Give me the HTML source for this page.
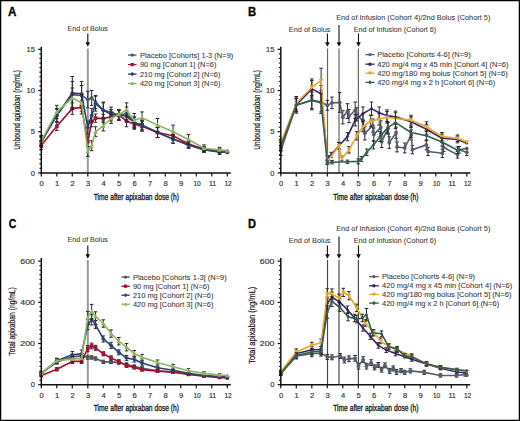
<!DOCTYPE html><html><head><meta charset="utf-8"><style>html,body{margin:0;padding:0;background:#fff;}svg{display:block;}text{font-family:"Liberation Sans",sans-serif;}</style></head><body>
<svg width="520" height="421" viewBox="0 0 520 421" font-family='"Liberation Sans", sans-serif'>
<rect x="0" y="0" width="520" height="421" fill="#fff"/>
<text x="8" y="15.7" font-size="12" font-weight="bold" fill="#000" stroke="#000" stroke-width="0.3" textLength="8.4" lengthAdjust="spacingAndGlyphs">A</text>
<text x="248.0" y="15.8" font-size="12" font-weight="bold" fill="#000" stroke="#000" stroke-width="0.3" textLength="8.2" lengthAdjust="spacingAndGlyphs">B</text>
<text x="8.7" y="227.7" font-size="12" font-weight="bold" fill="#000" stroke="#000" stroke-width="0.3" textLength="7.6" lengthAdjust="spacingAndGlyphs">C</text>
<text x="248.1" y="227.6" font-size="12" font-weight="bold" fill="#000" stroke="#000" stroke-width="0.3" textLength="8.0" lengthAdjust="spacingAndGlyphs">D</text>
<line x1="87.8" y1="48.6" x2="87.8" y2="172.9" stroke="#9a9a9a" stroke-width="2"/>
<path d="M41.3,137.47V147.36M39.5,137.47H43.1M39.5,147.36H43.1" stroke="#2a2a2a" stroke-width="1" fill="none"/>
<path d="M56.8,108.63V121.81M55,108.63H58.6M55,121.81H58.6" stroke="#2a2a2a" stroke-width="1" fill="none"/>
<path d="M72.3,81.44V107.8M70.5,81.44H74.1M70.5,107.8H74.1" stroke="#2a2a2a" stroke-width="1" fill="none"/>
<path d="M81.6,85.56V105.33M79.8,85.56H83.4M79.8,105.33H83.4" stroke="#2a2a2a" stroke-width="1" fill="none"/>
<path d="M87.8,91.32V107.8M86,91.32H89.6M86,107.8H89.6" stroke="#2a2a2a" stroke-width="1" fill="none"/>
<path d="M91.67,90.5V105.33M89.88,90.5H93.47M89.88,105.33H93.47" stroke="#2a2a2a" stroke-width="1" fill="none"/>
<path d="M95.55,95.44V108.63M93.75,95.44H97.35M93.75,108.63H97.35" stroke="#2a2a2a" stroke-width="1" fill="none"/>
<path d="M103.3,102.86V117.69M101.5,102.86H105.1M101.5,117.69H105.1" stroke="#2a2a2a" stroke-width="1" fill="none"/>
<path d="M111.05,106.98V116.87M109.25,106.98H112.85M109.25,116.87H112.85" stroke="#2a2a2a" stroke-width="1" fill="none"/>
<path d="M118.8,110.28V120.16M117,110.28H120.6M117,120.16H120.6" stroke="#2a2a2a" stroke-width="1" fill="none"/>
<path d="M126.55,106.98V120.16M124.75,106.98H128.35M124.75,120.16H128.35" stroke="#2a2a2a" stroke-width="1" fill="none"/>
<path d="M134.3,116.87V128.4M132.5,116.87H136.1M132.5,128.4H136.1" stroke="#2a2a2a" stroke-width="1" fill="none"/>
<path d="M142.05,120.16V130.05M140.25,120.16H143.85M140.25,130.05H143.85" stroke="#2a2a2a" stroke-width="1" fill="none"/>
<path d="M157.55,127.58V137.47M155.75,127.58H159.35M155.75,137.47H159.35" stroke="#2a2a2a" stroke-width="1" fill="none"/>
<path d="M173.05,135V143.24M171.25,135H174.85M171.25,143.24H174.85" stroke="#2a2a2a" stroke-width="1" fill="none"/>
<path d="M188.55,141.59V148.18M186.75,141.59H190.35M186.75,148.18H190.35" stroke="#2a2a2a" stroke-width="1" fill="none"/>
<path d="M204.05,147.36V152.3M202.25,147.36H205.85M202.25,152.3H205.85" stroke="#2a2a2a" stroke-width="1" fill="none"/>
<path d="M219.55,149.42V154.36M217.75,149.42H221.35M217.75,154.36H221.35" stroke="#2a2a2a" stroke-width="1" fill="none"/>
<path d="M41.3,142.41 L56.8,115.22 L72.3,94.62 L81.6,95.44 L87.8,99.56 L91.67,97.92 L95.55,102.04 L103.3,110.28 L111.05,111.92 L118.8,115.22 L126.55,113.57 L134.3,122.64 L142.05,125.11 L157.55,132.52 L173.05,139.12 L188.55,144.88 L204.05,149.83 L219.55,151.89 L227.3,152.3" stroke="#4e5661" stroke-width="1.6" fill="none" stroke-linejoin="round"/>
<circle cx="41.3" cy="142.41" r="1.9" fill="#4e5661"/>
<circle cx="56.8" cy="115.22" r="1.9" fill="#4e5661"/>
<circle cx="72.3" cy="94.62" r="1.9" fill="#4e5661"/>
<circle cx="81.6" cy="95.44" r="1.9" fill="#4e5661"/>
<circle cx="87.8" cy="99.56" r="1.9" fill="#4e5661"/>
<circle cx="91.67" cy="97.92" r="1.9" fill="#4e5661"/>
<circle cx="95.55" cy="102.04" r="1.9" fill="#4e5661"/>
<circle cx="103.3" cy="110.28" r="1.9" fill="#4e5661"/>
<circle cx="111.05" cy="111.92" r="1.9" fill="#4e5661"/>
<circle cx="118.8" cy="115.22" r="1.9" fill="#4e5661"/>
<circle cx="126.55" cy="113.57" r="1.9" fill="#4e5661"/>
<circle cx="134.3" cy="122.64" r="1.9" fill="#4e5661"/>
<circle cx="142.05" cy="125.11" r="1.9" fill="#4e5661"/>
<circle cx="157.55" cy="132.52" r="1.9" fill="#4e5661"/>
<circle cx="173.05" cy="139.12" r="1.9" fill="#4e5661"/>
<circle cx="188.55" cy="144.88" r="1.9" fill="#4e5661"/>
<circle cx="204.05" cy="149.83" r="1.9" fill="#4e5661"/>
<circle cx="219.55" cy="151.89" r="1.9" fill="#4e5661"/>
<circle cx="227.3" cy="152.3" r="1.9" fill="#4e5661"/>
<path d="M41.3,141.18V149.42M39.5,141.18H43.1M39.5,149.42H43.1" stroke="#2a2a2a" stroke-width="1" fill="none"/>
<path d="M56.8,122.22V130.46M55,122.22H58.6M55,130.46H58.6" stroke="#2a2a2a" stroke-width="1" fill="none"/>
<path d="M72.3,102.86V114.4M70.5,102.86H74.1M70.5,114.4H74.1" stroke="#2a2a2a" stroke-width="1" fill="none"/>
<path d="M81.6,100.8V113.98M79.8,100.8H83.4M79.8,113.98H83.4" stroke="#2a2a2a" stroke-width="1" fill="none"/>
<path d="M87.8,136.64V146.53M86,136.64H89.6M86,146.53H89.6" stroke="#2a2a2a" stroke-width="1" fill="none"/>
<path d="M91.67,116.87V126.76M89.88,116.87H93.47M89.88,126.76H93.47" stroke="#2a2a2a" stroke-width="1" fill="none"/>
<path d="M95.55,113.98V122.22M93.75,113.98H97.35M93.75,122.22H97.35" stroke="#2a2a2a" stroke-width="1" fill="none"/>
<path d="M103.3,114.4V122.64M101.5,114.4H105.1M101.5,122.64H105.1" stroke="#2a2a2a" stroke-width="1" fill="none"/>
<path d="M111.05,112.75V120.99M109.25,112.75H112.85M109.25,120.99H112.85" stroke="#2a2a2a" stroke-width="1" fill="none"/>
<path d="M118.8,110.28V120.16M117,110.28H120.6M117,120.16H120.6" stroke="#2a2a2a" stroke-width="1" fill="none"/>
<path d="M126.55,115.22V126.76M124.75,115.22H128.35M124.75,126.76H128.35" stroke="#2a2a2a" stroke-width="1" fill="none"/>
<path d="M134.3,119.34V129.23M132.5,119.34H136.1M132.5,129.23H136.1" stroke="#2a2a2a" stroke-width="1" fill="none"/>
<path d="M142.05,121.4V131.29M140.25,121.4H143.85M140.25,131.29H143.85" stroke="#2a2a2a" stroke-width="1" fill="none"/>
<path d="M157.55,127.58V137.47M155.75,127.58H159.35M155.75,137.47H159.35" stroke="#2a2a2a" stroke-width="1" fill="none"/>
<path d="M173.05,131.7V139.94M171.25,131.7H174.85M171.25,139.94H174.85" stroke="#2a2a2a" stroke-width="1" fill="none"/>
<path d="M188.55,140.76V147.36M186.75,140.76H190.35M186.75,147.36H190.35" stroke="#2a2a2a" stroke-width="1" fill="none"/>
<path d="M204.05,146.53V151.48M202.25,146.53H205.85M202.25,151.48H205.85" stroke="#2a2a2a" stroke-width="1" fill="none"/>
<path d="M219.55,148.18V153.12M217.75,148.18H221.35M217.75,153.12H221.35" stroke="#2a2a2a" stroke-width="1" fill="none"/>
<path d="M41.3,145.3 L56.8,126.34 L72.3,108.63 L81.6,107.39 L87.8,141.59 L91.67,121.81 L95.55,118.1 L103.3,118.52 L111.05,116.87 L118.8,115.22 L126.55,120.99 L134.3,124.28 L142.05,126.34 L157.55,132.52 L173.05,135.82 L188.55,144.06 L204.05,149 L219.55,150.65 L227.3,151.89" stroke="#a8102e" stroke-width="1.6" fill="none" stroke-linejoin="round"/>
<rect x="39.5" y="143.5" width="3.6" height="3.6" fill="#a8102e"/>
<rect x="55" y="124.54" width="3.6" height="3.6" fill="#a8102e"/>
<rect x="70.5" y="106.83" width="3.6" height="3.6" fill="#a8102e"/>
<rect x="79.8" y="105.59" width="3.6" height="3.6" fill="#a8102e"/>
<rect x="86" y="139.79" width="3.6" height="3.6" fill="#a8102e"/>
<rect x="89.88" y="120.01" width="3.6" height="3.6" fill="#a8102e"/>
<rect x="93.75" y="116.3" width="3.6" height="3.6" fill="#a8102e"/>
<rect x="101.5" y="116.72" width="3.6" height="3.6" fill="#a8102e"/>
<rect x="109.25" y="115.07" width="3.6" height="3.6" fill="#a8102e"/>
<rect x="117" y="113.42" width="3.6" height="3.6" fill="#a8102e"/>
<rect x="124.75" y="119.19" width="3.6" height="3.6" fill="#a8102e"/>
<rect x="132.5" y="122.48" width="3.6" height="3.6" fill="#a8102e"/>
<rect x="140.25" y="124.54" width="3.6" height="3.6" fill="#a8102e"/>
<rect x="155.75" y="130.72" width="3.6" height="3.6" fill="#a8102e"/>
<rect x="171.25" y="134.02" width="3.6" height="3.6" fill="#a8102e"/>
<rect x="186.75" y="142.26" width="3.6" height="3.6" fill="#a8102e"/>
<rect x="202.25" y="147.2" width="3.6" height="3.6" fill="#a8102e"/>
<rect x="217.75" y="148.85" width="3.6" height="3.6" fill="#a8102e"/>
<rect x="225.5" y="150.09" width="3.6" height="3.6" fill="#a8102e"/>
<path d="M41.3,135.82V145.71M39.5,135.82H43.1M39.5,145.71H43.1" stroke="#2a2a2a" stroke-width="1" fill="none"/>
<path d="M56.8,109.04V122.22M55,109.04H58.6M55,122.22H58.6" stroke="#2a2a2a" stroke-width="1" fill="none"/>
<path d="M72.3,76.49V109.45M70.5,76.49H74.1M70.5,109.45H74.1" stroke="#2a2a2a" stroke-width="1" fill="none"/>
<path d="M81.6,81.44V106.16M79.8,81.44H83.4M79.8,106.16H83.4" stroke="#2a2a2a" stroke-width="1" fill="none"/>
<path d="M87.8,120.99V134.17M86,120.99H89.6M86,134.17H89.6" stroke="#2a2a2a" stroke-width="1" fill="none"/>
<path d="M91.67,108.63V121.81M89.88,108.63H93.47M89.88,121.81H93.47" stroke="#2a2a2a" stroke-width="1" fill="none"/>
<path d="M95.55,96.27V111.1M93.75,96.27H97.35M93.75,111.1H97.35" stroke="#2a2a2a" stroke-width="1" fill="none"/>
<path d="M103.3,102.04V118.52M101.5,102.04H105.1M101.5,118.52H105.1" stroke="#2a2a2a" stroke-width="1" fill="none"/>
<path d="M111.05,109.45V119.34M109.25,109.45H112.85M109.25,119.34H112.85" stroke="#2a2a2a" stroke-width="1" fill="none"/>
<path d="M118.8,110.28V120.16M117,110.28H120.6M117,120.16H120.6" stroke="#2a2a2a" stroke-width="1" fill="none"/>
<path d="M126.55,110.28V121.81M124.75,110.28H128.35M124.75,121.81H128.35" stroke="#2a2a2a" stroke-width="1" fill="none"/>
<path d="M134.3,117.69V127.58M132.5,117.69H136.1M132.5,127.58H136.1" stroke="#2a2a2a" stroke-width="1" fill="none"/>
<path d="M142.05,120.16V130.05M140.25,120.16H143.85M140.25,130.05H143.85" stroke="#2a2a2a" stroke-width="1" fill="none"/>
<path d="M157.55,127.58V137.47M155.75,127.58H159.35M155.75,137.47H159.35" stroke="#2a2a2a" stroke-width="1" fill="none"/>
<path d="M173.05,135V143.24M171.25,135H174.85M171.25,143.24H174.85" stroke="#2a2a2a" stroke-width="1" fill="none"/>
<path d="M188.55,141.59V148.18M186.75,141.59H190.35M186.75,148.18H190.35" stroke="#2a2a2a" stroke-width="1" fill="none"/>
<path d="M204.05,147.36V152.3M202.25,147.36H205.85M202.25,152.3H205.85" stroke="#2a2a2a" stroke-width="1" fill="none"/>
<path d="M219.55,149.42V154.36M217.75,149.42H221.35M217.75,154.36H221.35" stroke="#2a2a2a" stroke-width="1" fill="none"/>
<path d="M41.3,140.76 L56.8,115.63 L72.3,92.97 L81.6,93.8 L87.8,127.58 L91.67,115.22 L95.55,103.68 L103.3,110.28 L111.05,114.4 L118.8,115.22 L126.55,116.04 L134.3,122.64 L142.05,125.11 L157.55,132.52 L173.05,139.12 L188.55,144.88 L204.05,149.83 L219.55,151.89 L227.3,152.3" stroke="#2a4272" stroke-width="1.6" fill="none" stroke-linejoin="round"/>
<path d="M41.3,138.46 L43.6,140.76 L41.3,143.06 L39,140.76 Z" fill="#2a4272"/>
<path d="M56.8,113.33 L59.1,115.63 L56.8,117.93 L54.5,115.63 Z" fill="#2a4272"/>
<path d="M72.3,90.67 L74.6,92.97 L72.3,95.27 L70,92.97 Z" fill="#2a4272"/>
<path d="M81.6,91.5 L83.9,93.8 L81.6,96.1 L79.3,93.8 Z" fill="#2a4272"/>
<path d="M87.8,125.28 L90.1,127.58 L87.8,129.88 L85.5,127.58 Z" fill="#2a4272"/>
<path d="M91.67,112.92 L93.97,115.22 L91.67,117.52 L89.38,115.22 Z" fill="#2a4272"/>
<path d="M95.55,101.38 L97.85,103.68 L95.55,105.98 L93.25,103.68 Z" fill="#2a4272"/>
<path d="M103.3,107.98 L105.6,110.28 L103.3,112.58 L101,110.28 Z" fill="#2a4272"/>
<path d="M111.05,112.1 L113.35,114.4 L111.05,116.7 L108.75,114.4 Z" fill="#2a4272"/>
<path d="M118.8,112.92 L121.1,115.22 L118.8,117.52 L116.5,115.22 Z" fill="#2a4272"/>
<path d="M126.55,113.74 L128.85,116.04 L126.55,118.34 L124.25,116.04 Z" fill="#2a4272"/>
<path d="M134.3,120.34 L136.6,122.64 L134.3,124.94 L132,122.64 Z" fill="#2a4272"/>
<path d="M142.05,122.81 L144.35,125.11 L142.05,127.41 L139.75,125.11 Z" fill="#2a4272"/>
<path d="M157.55,130.22 L159.85,132.52 L157.55,134.82 L155.25,132.52 Z" fill="#2a4272"/>
<path d="M173.05,136.82 L175.35,139.12 L173.05,141.42 L170.75,139.12 Z" fill="#2a4272"/>
<path d="M188.55,142.58 L190.85,144.88 L188.55,147.18 L186.25,144.88 Z" fill="#2a4272"/>
<path d="M204.05,147.53 L206.35,149.83 L204.05,152.13 L201.75,149.83 Z" fill="#2a4272"/>
<path d="M219.55,149.59 L221.85,151.89 L219.55,154.19 L217.25,151.89 Z" fill="#2a4272"/>
<path d="M227.3,150 L229.6,152.3 L227.3,154.6 L225,152.3 Z" fill="#2a4272"/>
<path d="M41.3,135.82V145.71M39.5,135.82H43.1M39.5,145.71H43.1" stroke="#2a2a2a" stroke-width="1" fill="none"/>
<path d="M56.8,105.33V118.52M55,105.33H58.6M55,118.52H58.6" stroke="#2a2a2a" stroke-width="1" fill="none"/>
<path d="M72.3,88.03V107.8M70.5,88.03H74.1M70.5,107.8H74.1" stroke="#2a2a2a" stroke-width="1" fill="none"/>
<path d="M81.6,94.62V111.1M79.8,94.62H83.4M79.8,111.1H83.4" stroke="#2a2a2a" stroke-width="1" fill="none"/>
<path d="M87.8,146.53V156.42M86,146.53H89.6M86,156.42H89.6" stroke="#2a2a2a" stroke-width="1" fill="none"/>
<path d="M91.67,140.76V150.65M89.88,140.76H93.47M89.88,150.65H93.47" stroke="#2a2a2a" stroke-width="1" fill="none"/>
<path d="M95.55,126.76V136.64M93.75,126.76H97.35M93.75,136.64H97.35" stroke="#2a2a2a" stroke-width="1" fill="none"/>
<path d="M103.3,120.99V130.88M101.5,120.99H105.1M101.5,130.88H105.1" stroke="#2a2a2a" stroke-width="1" fill="none"/>
<path d="M111.05,113.57V123.46M109.25,113.57H112.85M109.25,123.46H112.85" stroke="#2a2a2a" stroke-width="1" fill="none"/>
<path d="M118.8,109.45V119.34M117,109.45H120.6M117,119.34H120.6" stroke="#2a2a2a" stroke-width="1" fill="none"/>
<path d="M126.55,102.86V117.69M124.75,102.86H128.35M124.75,117.69H128.35" stroke="#2a2a2a" stroke-width="1" fill="none"/>
<path d="M134.3,113.57V126.76M132.5,113.57H136.1M132.5,126.76H136.1" stroke="#2a2a2a" stroke-width="1" fill="none"/>
<path d="M142.05,111.92V123.46M140.25,111.92H143.85M140.25,123.46H143.85" stroke="#2a2a2a" stroke-width="1" fill="none"/>
<path d="M157.55,118.52V131.7M155.75,118.52H159.35M155.75,131.7H159.35" stroke="#2a2a2a" stroke-width="1" fill="none"/>
<path d="M173.05,125.11V138.29M171.25,125.11H174.85M171.25,138.29H174.85" stroke="#2a2a2a" stroke-width="1" fill="none"/>
<path d="M188.55,134.58V144.47M186.75,134.58H190.35M186.75,144.47H190.35" stroke="#2a2a2a" stroke-width="1" fill="none"/>
<path d="M204.05,144.88V151.48M202.25,144.88H205.85M202.25,151.48H205.85" stroke="#2a2a2a" stroke-width="1" fill="none"/>
<path d="M219.55,147.36V152.3M217.75,147.36H221.35M217.75,152.3H221.35" stroke="#2a2a2a" stroke-width="1" fill="none"/>
<path d="M41.3,140.76 L56.8,111.92 L72.3,97.92 L81.6,102.86 L87.8,151.48 L91.67,145.71 L95.55,131.7 L103.3,125.93 L111.05,118.52 L118.8,114.4 L126.55,110.28 L134.3,120.16 L142.05,117.69 L157.55,125.11 L173.05,131.7 L188.55,139.53 L204.05,148.18 L219.55,149.83 L227.3,150.65" stroke="#8db563" stroke-width="1.6" fill="none" stroke-linejoin="round"/>
<path d="M41.3,138.46 L43.6,142.6 L39,142.6 Z" fill="#8db563"/>
<path d="M56.8,109.62 L59.1,113.76 L54.5,113.76 Z" fill="#8db563"/>
<path d="M72.3,95.62 L74.6,99.76 L70,99.76 Z" fill="#8db563"/>
<path d="M81.6,100.56 L83.9,104.7 L79.3,104.7 Z" fill="#8db563"/>
<path d="M87.8,149.18 L90.1,153.32 L85.5,153.32 Z" fill="#8db563"/>
<path d="M91.67,143.41 L93.97,147.55 L89.38,147.55 Z" fill="#8db563"/>
<path d="M95.55,129.4 L97.85,133.54 L93.25,133.54 Z" fill="#8db563"/>
<path d="M103.3,123.63 L105.6,127.77 L101,127.77 Z" fill="#8db563"/>
<path d="M111.05,116.22 L113.35,120.36 L108.75,120.36 Z" fill="#8db563"/>
<path d="M118.8,112.1 L121.1,116.24 L116.5,116.24 Z" fill="#8db563"/>
<path d="M126.55,107.98 L128.85,112.12 L124.25,112.12 Z" fill="#8db563"/>
<path d="M134.3,117.86 L136.6,122 L132,122 Z" fill="#8db563"/>
<path d="M142.05,115.39 L144.35,119.53 L139.75,119.53 Z" fill="#8db563"/>
<path d="M157.55,122.81 L159.85,126.95 L155.25,126.95 Z" fill="#8db563"/>
<path d="M173.05,129.4 L175.35,133.54 L170.75,133.54 Z" fill="#8db563"/>
<path d="M188.55,137.23 L190.85,141.37 L186.25,141.37 Z" fill="#8db563"/>
<path d="M204.05,145.88 L206.35,150.02 L201.75,150.02 Z" fill="#8db563"/>
<path d="M219.55,147.53 L221.85,151.67 L217.25,151.67 Z" fill="#8db563"/>
<path d="M227.3,148.35 L229.6,152.49 L225,152.49 Z" fill="#8db563"/>
<line x1="41.3" y1="46.8" x2="41.3" y2="173.7" stroke="#111" stroke-width="1.5"/>
<line x1="40.55" y1="172.9" x2="230.8" y2="172.9" stroke="#111" stroke-width="1.5"/>
<line x1="41.3" y1="172.9" x2="41.3" y2="176.4" stroke="#111" stroke-width="1.2"/>
<text x="41.6" y="186.4" font-size="7.6" text-anchor="middle" fill="#3c3c3c" stroke="#3c3c3c" stroke-width="0.2">0</text>
<line x1="56.8" y1="172.9" x2="56.8" y2="176.4" stroke="#111" stroke-width="1.2"/>
<text x="57.1" y="186.4" font-size="7.6" text-anchor="middle" fill="#3c3c3c" stroke="#3c3c3c" stroke-width="0.2">1</text>
<line x1="72.3" y1="172.9" x2="72.3" y2="176.4" stroke="#111" stroke-width="1.2"/>
<text x="72.6" y="186.4" font-size="7.6" text-anchor="middle" fill="#3c3c3c" stroke="#3c3c3c" stroke-width="0.2">2</text>
<line x1="87.8" y1="172.9" x2="87.8" y2="176.4" stroke="#111" stroke-width="1.2"/>
<text x="88.1" y="186.4" font-size="7.6" text-anchor="middle" fill="#3c3c3c" stroke="#3c3c3c" stroke-width="0.2">3</text>
<line x1="103.3" y1="172.9" x2="103.3" y2="176.4" stroke="#111" stroke-width="1.2"/>
<text x="103.6" y="186.4" font-size="7.6" text-anchor="middle" fill="#3c3c3c" stroke="#3c3c3c" stroke-width="0.2">4</text>
<line x1="118.8" y1="172.9" x2="118.8" y2="176.4" stroke="#111" stroke-width="1.2"/>
<text x="119.1" y="186.4" font-size="7.6" text-anchor="middle" fill="#3c3c3c" stroke="#3c3c3c" stroke-width="0.2">5</text>
<line x1="134.3" y1="172.9" x2="134.3" y2="176.4" stroke="#111" stroke-width="1.2"/>
<text x="134.6" y="186.4" font-size="7.6" text-anchor="middle" fill="#3c3c3c" stroke="#3c3c3c" stroke-width="0.2">6</text>
<line x1="149.8" y1="172.9" x2="149.8" y2="176.4" stroke="#111" stroke-width="1.2"/>
<text x="150.1" y="186.4" font-size="7.6" text-anchor="middle" fill="#3c3c3c" stroke="#3c3c3c" stroke-width="0.2">7</text>
<line x1="165.3" y1="172.9" x2="165.3" y2="176.4" stroke="#111" stroke-width="1.2"/>
<text x="165.6" y="186.4" font-size="7.6" text-anchor="middle" fill="#3c3c3c" stroke="#3c3c3c" stroke-width="0.2">8</text>
<line x1="180.8" y1="172.9" x2="180.8" y2="176.4" stroke="#111" stroke-width="1.2"/>
<text x="181.1" y="186.4" font-size="7.6" text-anchor="middle" fill="#3c3c3c" stroke="#3c3c3c" stroke-width="0.2">9</text>
<line x1="196.3" y1="172.9" x2="196.3" y2="176.4" stroke="#111" stroke-width="1.2"/>
<text x="197.1" y="186.4" font-size="7.6" text-anchor="middle" fill="#3c3c3c" stroke="#3c3c3c" stroke-width="0.2" textLength="7.4" lengthAdjust="spacingAndGlyphs">10</text>
<line x1="211.8" y1="172.9" x2="211.8" y2="176.4" stroke="#111" stroke-width="1.2"/>
<text x="212.6" y="186.4" font-size="7.6" text-anchor="middle" fill="#3c3c3c" stroke="#3c3c3c" stroke-width="0.2" textLength="7.4" lengthAdjust="spacingAndGlyphs">11</text>
<line x1="227.3" y1="172.9" x2="227.3" y2="176.4" stroke="#111" stroke-width="1.2"/>
<text x="228.1" y="186.4" font-size="7.6" text-anchor="middle" fill="#3c3c3c" stroke="#3c3c3c" stroke-width="0.2" textLength="7.4" lengthAdjust="spacingAndGlyphs">12</text>
<line x1="38.1" y1="172.9" x2="41.3" y2="172.9" stroke="#111" stroke-width="1.2"/>
<line x1="39.4" y1="168.32" x2="41.3" y2="168.32" stroke="#111" stroke-width="1.1"/>
<line x1="39.4" y1="163.74" x2="41.3" y2="163.74" stroke="#111" stroke-width="1.1"/>
<line x1="39.4" y1="159.17" x2="41.3" y2="159.17" stroke="#111" stroke-width="1.1"/>
<line x1="39.4" y1="154.59" x2="41.3" y2="154.59" stroke="#111" stroke-width="1.1"/>
<line x1="39.4" y1="150.01" x2="41.3" y2="150.01" stroke="#111" stroke-width="1.1"/>
<line x1="39.4" y1="145.43" x2="41.3" y2="145.43" stroke="#111" stroke-width="1.1"/>
<line x1="39.4" y1="140.86" x2="41.3" y2="140.86" stroke="#111" stroke-width="1.1"/>
<line x1="39.4" y1="136.28" x2="41.3" y2="136.28" stroke="#111" stroke-width="1.1"/>
<line x1="38.1" y1="131.7" x2="41.3" y2="131.7" stroke="#111" stroke-width="1.2"/>
<line x1="39.4" y1="127.12" x2="41.3" y2="127.12" stroke="#111" stroke-width="1.1"/>
<line x1="39.4" y1="122.54" x2="41.3" y2="122.54" stroke="#111" stroke-width="1.1"/>
<line x1="39.4" y1="117.97" x2="41.3" y2="117.97" stroke="#111" stroke-width="1.1"/>
<line x1="39.4" y1="113.39" x2="41.3" y2="113.39" stroke="#111" stroke-width="1.1"/>
<line x1="39.4" y1="108.81" x2="41.3" y2="108.81" stroke="#111" stroke-width="1.1"/>
<line x1="39.4" y1="104.23" x2="41.3" y2="104.23" stroke="#111" stroke-width="1.1"/>
<line x1="39.4" y1="99.66" x2="41.3" y2="99.66" stroke="#111" stroke-width="1.1"/>
<line x1="39.4" y1="95.08" x2="41.3" y2="95.08" stroke="#111" stroke-width="1.1"/>
<line x1="38.1" y1="90.5" x2="41.3" y2="90.5" stroke="#111" stroke-width="1.2"/>
<line x1="39.4" y1="85.92" x2="41.3" y2="85.92" stroke="#111" stroke-width="1.1"/>
<line x1="39.4" y1="81.34" x2="41.3" y2="81.34" stroke="#111" stroke-width="1.1"/>
<line x1="39.4" y1="76.77" x2="41.3" y2="76.77" stroke="#111" stroke-width="1.1"/>
<line x1="39.4" y1="72.19" x2="41.3" y2="72.19" stroke="#111" stroke-width="1.1"/>
<line x1="39.4" y1="67.61" x2="41.3" y2="67.61" stroke="#111" stroke-width="1.1"/>
<line x1="39.4" y1="63.03" x2="41.3" y2="63.03" stroke="#111" stroke-width="1.1"/>
<line x1="39.4" y1="58.46" x2="41.3" y2="58.46" stroke="#111" stroke-width="1.1"/>
<line x1="39.4" y1="53.88" x2="41.3" y2="53.88" stroke="#111" stroke-width="1.1"/>
<line x1="38.1" y1="49.3" x2="41.3" y2="49.3" stroke="#111" stroke-width="1.2"/>
<text x="34.9" y="175.5" font-size="7.6" text-anchor="end" fill="#3c3c3c" stroke="#3c3c3c" stroke-width="0.2">0</text>
<text x="34.9" y="134.3" font-size="7.6" text-anchor="end" fill="#3c3c3c" stroke="#3c3c3c" stroke-width="0.2">5</text>
<text x="34.9" y="93.1" font-size="7.6" text-anchor="end" fill="#3c3c3c" stroke="#3c3c3c" stroke-width="0.2" textLength="8.5" lengthAdjust="spacingAndGlyphs">10</text>
<text x="34.9" y="51.9" font-size="7.6" text-anchor="end" fill="#3c3c3c" stroke="#3c3c3c" stroke-width="0.2" textLength="8.3" lengthAdjust="spacingAndGlyphs">15</text>
<text x="67.6" y="31.4" font-size="7.2" fill="#3c3c3c" stroke="#3c3c3c" stroke-width="0.08" textLength="40.3" lengthAdjust="spacingAndGlyphs">End of Bolus</text>
<line x1="87.8" y1="33.4" x2="87.8" y2="43.8" stroke="#111" stroke-width="1.1"/>
<path d="M85.5,42.2 L90.1,42.2 L87.8,46.8 Z" fill="#111"/>
<line x1="128" y1="55.1" x2="136.5" y2="55.1" stroke="#4e5661" stroke-width="1.3"/>
<circle cx="132.25" cy="55.1" r="1.71" fill="#4e5661"/>
<text x="139.9" y="57.5" font-size="7.2" fill="#3c3c3c" stroke="#3c3c3c" stroke-width="0.08" textLength="93.4" lengthAdjust="spacingAndGlyphs">Placebo [Cohorts] 1-3 (N=9)</text>
<line x1="128" y1="64.6" x2="136.5" y2="64.6" stroke="#a8102e" stroke-width="1.3"/>
<rect x="130.63" y="62.98" width="3.24" height="3.24" fill="#a8102e"/>
<text x="139.9" y="67" font-size="7.2" fill="#3c3c3c" stroke="#3c3c3c" stroke-width="0.08" textLength="76.5" lengthAdjust="spacingAndGlyphs">90 mg [Cohort 1] (N=6)</text>
<line x1="128" y1="74.1" x2="136.5" y2="74.1" stroke="#2a4272" stroke-width="1.3"/>
<path d="M132.25,72.03 L134.32,74.1 L132.25,76.17 L130.18,74.1 Z" fill="#2a4272"/>
<text x="139.9" y="76.5" font-size="7.2" fill="#3c3c3c" stroke="#3c3c3c" stroke-width="0.08" textLength="80.5" lengthAdjust="spacingAndGlyphs">210 mg [Cohort 2] (N=6)</text>
<line x1="128" y1="83.4" x2="136.5" y2="83.4" stroke="#8db563" stroke-width="1.3"/>
<path d="M132.25,81.33 L134.32,85.06 L130.18,85.06 Z" fill="#8db563"/>
<text x="139.9" y="85.8" font-size="7.2" fill="#3c3c3c" stroke="#3c3c3c" stroke-width="0.08" textLength="80.5" lengthAdjust="spacingAndGlyphs">420 mg [Cohort 3] (N=6)</text>
<text transform="translate(20,109.9) rotate(-90)" x="-39.85" y="0" font-size="8.6" fill="#222" textLength="79.7" lengthAdjust="spacingAndGlyphs" stroke="#222" stroke-width="0.22">Unbound apixaban (ng/mL)</text>
<text x="93.7" y="200" font-size="9" fill="#222" textLength="85.3" lengthAdjust="spacingAndGlyphs" stroke="#222" stroke-width="0.35">Time after apixaban dose (h)</text>
<line x1="327.5" y1="48.5" x2="327.5" y2="172.9" stroke="#666" stroke-width="1.2"/>
<line x1="339.0" y1="48.5" x2="339.0" y2="172.9" stroke="#666" stroke-width="1.2"/>
<line x1="358.4" y1="48.5" x2="358.4" y2="172.9" stroke="#666" stroke-width="1.2"/>
<path d="M280.8,145.71V155.6M279,145.71H282.6M279,155.6H282.6" stroke="#2a2a2a" stroke-width="1" fill="none"/>
<path d="M296.3,96.68V113.16M294.5,96.68H298.1M294.5,113.16H298.1" stroke="#2a2a2a" stroke-width="1" fill="none"/>
<path d="M311.8,90.09V109.86M310,90.09H313.6M310,109.86H313.6" stroke="#2a2a2a" stroke-width="1" fill="none"/>
<path d="M321.1,90.5V113.57M319.3,90.5H322.9M319.3,113.57H322.9" stroke="#2a2a2a" stroke-width="1" fill="none"/>
<path d="M327.3,100.39V110.28M325.5,100.39H329.1M325.5,110.28H329.1" stroke="#2a2a2a" stroke-width="1" fill="none"/>
<path d="M331.95,97.09V108.63M330.15,97.09H333.75M330.15,108.63H333.75" stroke="#2a2a2a" stroke-width="1" fill="none"/>
<path d="M339.7,92.56V112.34M337.9,92.56H341.5M337.9,112.34H341.5" stroke="#2a2a2a" stroke-width="1" fill="none"/>
<path d="M342.8,110.69V123.87M341,110.69H344.6M341,123.87H344.6" stroke="#2a2a2a" stroke-width="1" fill="none"/>
<path d="M347.45,103.68V118.52M345.65,103.68H349.25M345.65,118.52H349.25" stroke="#2a2a2a" stroke-width="1" fill="none"/>
<path d="M349,109.45V122.64M347.2,109.45H350.8M347.2,122.64H350.8" stroke="#2a2a2a" stroke-width="1" fill="none"/>
<path d="M355.2,102.04V118.52M353.4,102.04H357M353.4,118.52H357" stroke="#2a2a2a" stroke-width="1" fill="none"/>
<path d="M356.75,107.8V120.99M354.95,107.8H358.55M354.95,120.99H358.55" stroke="#2a2a2a" stroke-width="1" fill="none"/>
<path d="M362.95,113.57V128.4M361.15,113.57H364.75M361.15,128.4H364.75" stroke="#2a2a2a" stroke-width="1" fill="none"/>
<path d="M364.81,126.76V139.94M363.01,126.76H366.61M363.01,139.94H366.61" stroke="#2a2a2a" stroke-width="1" fill="none"/>
<path d="M372.87,119.01V132.19M371.07,119.01H374.67M371.07,132.19H374.67" stroke="#2a2a2a" stroke-width="1" fill="none"/>
<path d="M373.8,127.99V141.18M372,127.99H375.6M372,141.18H375.6" stroke="#2a2a2a" stroke-width="1" fill="none"/>
<path d="M380.78,120.82V134.01M378.98,120.82H382.58M378.98,134.01H382.58" stroke="#2a2a2a" stroke-width="1" fill="none"/>
<path d="M381.71,135.9V147.44M379.91,135.9H383.51M379.91,147.44H383.51" stroke="#2a2a2a" stroke-width="1" fill="none"/>
<path d="M388.06,122.55V134.09M386.26,122.55H389.86M386.26,134.09H389.86" stroke="#2a2a2a" stroke-width="1" fill="none"/>
<path d="M389.3,136.81V148.34M387.5,136.81H391.1M387.5,148.34H391.1" stroke="#2a2a2a" stroke-width="1" fill="none"/>
<path d="M396.12,127V138.54M394.32,127H397.92M394.32,138.54H397.92" stroke="#2a2a2a" stroke-width="1" fill="none"/>
<path d="M397.05,142V151.89M395.25,142H398.85M395.25,151.89H398.85" stroke="#2a2a2a" stroke-width="1" fill="none"/>
<path d="M404.8,142.99V152.88M403,142.99H406.6M403,152.88H406.6" stroke="#2a2a2a" stroke-width="1" fill="none"/>
<path d="M411.15,130.05V139.94M409.35,130.05H412.95M409.35,139.94H412.95" stroke="#2a2a2a" stroke-width="1" fill="none"/>
<path d="M412.39,145.54V153.78M410.59,145.54H414.19M410.59,153.78H414.19" stroke="#2a2a2a" stroke-width="1" fill="none"/>
<path d="M426.35,139.94V149.83M424.55,139.94H428.15M424.55,149.83H428.15" stroke="#2a2a2a" stroke-width="1" fill="none"/>
<path d="M428.05,147.36V155.6M426.25,147.36H429.85M426.25,155.6H429.85" stroke="#2a2a2a" stroke-width="1" fill="none"/>
<path d="M442.31,149.17V157.41M440.51,149.17H444.11M440.51,157.41H444.11" stroke="#2a2a2a" stroke-width="1" fill="none"/>
<path d="M443.55,143.24V151.48M441.75,143.24H445.35M441.75,151.48H445.35" stroke="#2a2a2a" stroke-width="1" fill="none"/>
<path d="M457.5,151.48V158.07M455.7,151.48H459.3M455.7,158.07H459.3" stroke="#2a2a2a" stroke-width="1" fill="none"/>
<path d="M459.05,146.53V153.12M457.25,146.53H460.85M457.25,153.12H460.85" stroke="#2a2a2a" stroke-width="1" fill="none"/>
<path d="M466.8,149V155.6M465,149H468.6M465,155.6H468.6" stroke="#2a2a2a" stroke-width="1" fill="none"/>
<path d="M280.8,150.65 L296.3,104.92 L311.8,99.98 L321.1,102.04 L327.3,105.33 L331.95,102.86 L339.7,102.45 L342.8,117.28 L347.45,111.1 L349,116.04 L355.2,110.28 L356.75,114.4 L362.95,120.99 L364.81,133.35 L372.87,125.6 L373.8,134.58 L380.78,127.42 L381.71,141.67 L388.06,128.32 L389.3,142.58 L396.12,132.77 L397.05,146.94 L404.8,147.93 L411.15,135 L412.39,149.66 L426.35,144.88 L428.05,151.48 L442.31,153.29 L443.55,147.36 L457.5,154.77 L459.05,149.83 L466.8,152.3" stroke="#565d6c" stroke-width="1.6" fill="none" stroke-linejoin="round"/>
<circle cx="280.8" cy="150.65" r="1.9" fill="#565d6c"/>
<circle cx="296.3" cy="104.92" r="1.9" fill="#565d6c"/>
<circle cx="311.8" cy="99.98" r="1.9" fill="#565d6c"/>
<circle cx="321.1" cy="102.04" r="1.9" fill="#565d6c"/>
<circle cx="327.3" cy="105.33" r="1.9" fill="#565d6c"/>
<circle cx="331.95" cy="102.86" r="1.9" fill="#565d6c"/>
<circle cx="339.7" cy="102.45" r="1.9" fill="#565d6c"/>
<circle cx="342.8" cy="117.28" r="1.9" fill="#565d6c"/>
<circle cx="347.45" cy="111.1" r="1.9" fill="#565d6c"/>
<circle cx="349" cy="116.04" r="1.9" fill="#565d6c"/>
<circle cx="355.2" cy="110.28" r="1.9" fill="#565d6c"/>
<circle cx="356.75" cy="114.4" r="1.9" fill="#565d6c"/>
<circle cx="362.95" cy="120.99" r="1.9" fill="#565d6c"/>
<circle cx="364.81" cy="133.35" r="1.9" fill="#565d6c"/>
<circle cx="372.87" cy="125.6" r="1.9" fill="#565d6c"/>
<circle cx="373.8" cy="134.58" r="1.9" fill="#565d6c"/>
<circle cx="380.78" cy="127.42" r="1.9" fill="#565d6c"/>
<circle cx="381.71" cy="141.67" r="1.9" fill="#565d6c"/>
<circle cx="388.06" cy="128.32" r="1.9" fill="#565d6c"/>
<circle cx="389.3" cy="142.58" r="1.9" fill="#565d6c"/>
<circle cx="396.12" cy="132.77" r="1.9" fill="#565d6c"/>
<circle cx="397.05" cy="146.94" r="1.9" fill="#565d6c"/>
<circle cx="404.8" cy="147.93" r="1.9" fill="#565d6c"/>
<circle cx="411.15" cy="135" r="1.9" fill="#565d6c"/>
<circle cx="412.39" cy="149.66" r="1.9" fill="#565d6c"/>
<circle cx="426.35" cy="144.88" r="1.9" fill="#565d6c"/>
<circle cx="428.05" cy="151.48" r="1.9" fill="#565d6c"/>
<circle cx="442.31" cy="153.29" r="1.9" fill="#565d6c"/>
<circle cx="443.55" cy="147.36" r="1.9" fill="#565d6c"/>
<circle cx="457.5" cy="154.77" r="1.9" fill="#565d6c"/>
<circle cx="459.05" cy="149.83" r="1.9" fill="#565d6c"/>
<circle cx="466.8" cy="152.3" r="1.9" fill="#565d6c"/>
<path d="M280.8,139.94V148.18M279,139.94H282.6M279,148.18H282.6" stroke="#2a2a2a" stroke-width="1" fill="none"/>
<path d="M296.3,98.33V111.51M294.5,98.33H298.1M294.5,111.51H298.1" stroke="#2a2a2a" stroke-width="1" fill="none"/>
<path d="M311.8,80.61V97.09M310,80.61H313.6M310,97.09H313.6" stroke="#2a2a2a" stroke-width="1" fill="none"/>
<path d="M321.1,85.56V102.04M319.3,85.56H322.9M319.3,102.04H322.9" stroke="#2a2a2a" stroke-width="1" fill="none"/>
<path d="M327.3,155.6V160.54M325.5,155.6H329.1M325.5,160.54H329.1" stroke="#2a2a2a" stroke-width="1" fill="none"/>
<path d="M331.18,152.3V157.24M329.38,152.3H332.98M329.38,157.24H332.98" stroke="#2a2a2a" stroke-width="1" fill="none"/>
<path d="M338.93,142.41V149M337.12,142.41H340.73M337.12,149H340.73" stroke="#2a2a2a" stroke-width="1" fill="none"/>
<path d="M347.45,132.52V140.76M345.65,132.52H349.25M345.65,140.76H349.25" stroke="#2a2a2a" stroke-width="1" fill="none"/>
<path d="M355.2,114.4V125.93M353.4,114.4H357M353.4,125.93H357" stroke="#2a2a2a" stroke-width="1" fill="none"/>
<path d="M362.95,106.98V120.16M361.15,106.98H364.75M361.15,120.16H364.75" stroke="#2a2a2a" stroke-width="1" fill="none"/>
<path d="M371.48,102.04V115.22M369.68,102.04H373.28M369.68,115.22H373.28" stroke="#2a2a2a" stroke-width="1" fill="none"/>
<path d="M379.23,106.98V118.52M377.43,106.98H381.03M377.43,118.52H381.03" stroke="#2a2a2a" stroke-width="1" fill="none"/>
<path d="M386.98,109.86V121.4M385.18,109.86H388.78M385.18,121.4H388.78" stroke="#2a2a2a" stroke-width="1" fill="none"/>
<path d="M395.5,111.1V122.64M393.7,111.1H397.3M393.7,122.64H397.3" stroke="#2a2a2a" stroke-width="1" fill="none"/>
<path d="M411,116.87V126.76M409.2,116.87H412.8M409.2,126.76H412.8" stroke="#2a2a2a" stroke-width="1" fill="none"/>
<path d="M426.5,124.28V134.17M424.7,124.28H428.3M424.7,134.17H428.3" stroke="#2a2a2a" stroke-width="1" fill="none"/>
<path d="M442,134.17V142.41M440.2,134.17H443.8M440.2,142.41H443.8" stroke="#2a2a2a" stroke-width="1" fill="none"/>
<path d="M457.5,136.23V142.82M455.7,136.23H459.3M455.7,142.82H459.3" stroke="#2a2a2a" stroke-width="1" fill="none"/>
<path d="M280.8,144.06 L296.3,104.92 L311.8,88.85 L321.1,93.8 L327.3,158.07 L331.18,154.77 L338.93,145.71 L347.45,136.64 L355.2,120.16 L362.95,113.57 L371.48,108.63 L379.23,112.75 L386.98,115.63 L395.5,116.87 L411,121.81 L426.5,129.23 L442,138.29 L457.5,139.53 L466.8,143.24" stroke="#3c2468" stroke-width="1.6" fill="none" stroke-linejoin="round"/>
<circle cx="280.8" cy="144.06" r="1.33" fill="#3c2468"/>
<circle cx="296.3" cy="104.92" r="1.33" fill="#3c2468"/>
<circle cx="311.8" cy="88.85" r="1.33" fill="#3c2468"/>
<circle cx="321.1" cy="93.8" r="1.33" fill="#3c2468"/>
<circle cx="327.3" cy="158.07" r="1.33" fill="#3c2468"/>
<circle cx="331.18" cy="154.77" r="1.33" fill="#3c2468"/>
<circle cx="338.93" cy="145.71" r="1.33" fill="#3c2468"/>
<circle cx="347.45" cy="136.64" r="1.33" fill="#3c2468"/>
<circle cx="355.2" cy="120.16" r="1.33" fill="#3c2468"/>
<circle cx="362.95" cy="113.57" r="1.33" fill="#3c2468"/>
<circle cx="371.48" cy="108.63" r="1.33" fill="#3c2468"/>
<circle cx="379.23" cy="112.75" r="1.33" fill="#3c2468"/>
<circle cx="386.98" cy="115.63" r="1.33" fill="#3c2468"/>
<circle cx="395.5" cy="116.87" r="1.33" fill="#3c2468"/>
<circle cx="411" cy="121.81" r="1.33" fill="#3c2468"/>
<circle cx="426.5" cy="129.23" r="1.33" fill="#3c2468"/>
<circle cx="442" cy="138.29" r="1.33" fill="#3c2468"/>
<circle cx="457.5" cy="139.53" r="1.33" fill="#3c2468"/>
<circle cx="466.8" cy="143.24" r="1.33" fill="#3c2468"/>
<path d="M280.8,139.12V147.36M279,139.12H282.6M279,147.36H282.6" stroke="#2a2a2a" stroke-width="1" fill="none"/>
<path d="M296.3,96.68V109.86M294.5,96.68H298.1M294.5,109.86H298.1" stroke="#2a2a2a" stroke-width="1" fill="none"/>
<path d="M311.8,78.96V95.44M310,78.96H313.6M310,95.44H313.6" stroke="#2a2a2a" stroke-width="1" fill="none"/>
<path d="M321.1,68.25V92.97M319.3,68.25H322.9M319.3,92.97H322.9" stroke="#2a2a2a" stroke-width="1" fill="none"/>
<path d="M327.3,159.3V164.25M325.5,159.3H329.1M325.5,164.25H329.1" stroke="#2a2a2a" stroke-width="1" fill="none"/>
<path d="M338.93,142.41V149M337.12,142.41H340.73M337.12,149H340.73" stroke="#2a2a2a" stroke-width="1" fill="none"/>
<path d="M341.87,156.01V160.95M340.07,156.01H343.67M340.07,160.95H343.67" stroke="#2a2a2a" stroke-width="1" fill="none"/>
<path d="M349,146.53V153.12M347.2,146.53H350.8M347.2,153.12H350.8" stroke="#2a2a2a" stroke-width="1" fill="none"/>
<path d="M356.75,131.7V139.94M354.95,131.7H358.55M354.95,139.94H358.55" stroke="#2a2a2a" stroke-width="1" fill="none"/>
<path d="M362.95,121.81V131.7M361.15,121.81H364.75M361.15,131.7H364.75" stroke="#2a2a2a" stroke-width="1" fill="none"/>
<path d="M370.7,115.22V126.76M368.9,115.22H372.5M368.9,126.76H372.5" stroke="#2a2a2a" stroke-width="1" fill="none"/>
<path d="M379.23,113.57V125.11M377.43,113.57H381.03M377.43,125.11H381.03" stroke="#2a2a2a" stroke-width="1" fill="none"/>
<path d="M386.98,111.51V123.05M385.18,111.51H388.78M385.18,123.05H388.78" stroke="#2a2a2a" stroke-width="1" fill="none"/>
<path d="M395.5,112.75V124.28M393.7,112.75H397.3M393.7,124.28H397.3" stroke="#2a2a2a" stroke-width="1" fill="none"/>
<path d="M411,115.22V125.11M409.2,115.22H412.8M409.2,125.11H412.8" stroke="#2a2a2a" stroke-width="1" fill="none"/>
<path d="M426.5,121.81V131.7M424.7,121.81H428.3M424.7,131.7H428.3" stroke="#2a2a2a" stroke-width="1" fill="none"/>
<path d="M442,132.52V140.76M440.2,132.52H443.8M440.2,140.76H443.8" stroke="#2a2a2a" stroke-width="1" fill="none"/>
<path d="M457.5,135V141.59M455.7,135H459.3M455.7,141.59H459.3" stroke="#2a2a2a" stroke-width="1" fill="none"/>
<path d="M280.8,143.24 L296.3,103.27 L311.8,87.2 L321.1,80.61 L327.3,161.78 L338.93,145.71 L341.87,158.48 L349,149.83 L356.75,135.82 L362.95,126.76 L370.7,120.99 L379.23,119.34 L386.98,117.28 L395.5,118.52 L411,120.16 L426.5,126.76 L442,136.64 L457.5,138.29 L466.8,142" stroke="#eba630" stroke-width="1.6" fill="none" stroke-linejoin="round"/>
<path d="M280.8,145.54 L283.1,141.4 L278.5,141.4 Z" fill="#eba630"/>
<path d="M296.3,105.57 L298.6,101.43 L294,101.43 Z" fill="#eba630"/>
<path d="M311.8,89.5 L314.1,85.36 L309.5,85.36 Z" fill="#eba630"/>
<path d="M321.1,82.91 L323.4,78.77 L318.8,78.77 Z" fill="#eba630"/>
<path d="M327.3,164.08 L329.6,159.94 L325,159.94 Z" fill="#eba630"/>
<path d="M338.93,148.01 L341.23,143.87 L336.62,143.87 Z" fill="#eba630"/>
<path d="M341.87,160.78 L344.17,156.64 L339.57,156.64 Z" fill="#eba630"/>
<path d="M349,152.13 L351.3,147.99 L346.7,147.99 Z" fill="#eba630"/>
<path d="M356.75,138.12 L359.05,133.98 L354.45,133.98 Z" fill="#eba630"/>
<path d="M362.95,129.06 L365.25,124.92 L360.65,124.92 Z" fill="#eba630"/>
<path d="M370.7,123.29 L373,119.15 L368.4,119.15 Z" fill="#eba630"/>
<path d="M379.23,121.64 L381.53,117.5 L376.93,117.5 Z" fill="#eba630"/>
<path d="M386.98,119.58 L389.28,115.44 L384.68,115.44 Z" fill="#eba630"/>
<path d="M395.5,120.82 L397.8,116.68 L393.2,116.68 Z" fill="#eba630"/>
<path d="M411,122.46 L413.3,118.32 L408.7,118.32 Z" fill="#eba630"/>
<path d="M426.5,129.06 L428.8,124.92 L424.2,124.92 Z" fill="#eba630"/>
<path d="M442,138.94 L444.3,134.8 L439.7,134.8 Z" fill="#eba630"/>
<path d="M457.5,140.59 L459.8,136.45 L455.2,136.45 Z" fill="#eba630"/>
<path d="M466.8,144.3 L469.1,140.16 L464.5,140.16 Z" fill="#eba630"/>
<path d="M280.8,142.41V150.65M279,142.41H282.6M279,150.65H282.6" stroke="#2a2a2a" stroke-width="1" fill="none"/>
<path d="M296.3,98.74V111.92M294.5,98.74H298.1M294.5,111.92H298.1" stroke="#2a2a2a" stroke-width="1" fill="none"/>
<path d="M311.8,92.15V108.63M310,92.15H313.6M310,108.63H313.6" stroke="#2a2a2a" stroke-width="1" fill="none"/>
<path d="M321.1,93.8V111.92M319.3,93.8H322.9M319.3,111.92H322.9" stroke="#2a2a2a" stroke-width="1" fill="none"/>
<path d="M327.3,160.95V164.25M325.5,160.95H329.1M325.5,164.25H329.1" stroke="#2a2a2a" stroke-width="1" fill="none"/>
<path d="M331.95,160.54V163.84M330.15,160.54H333.75M330.15,163.84H333.75" stroke="#2a2a2a" stroke-width="1" fill="none"/>
<path d="M347.45,160.13V163.42M345.65,160.13H349.25M345.65,163.42H349.25" stroke="#2a2a2a" stroke-width="1" fill="none"/>
<path d="M358.3,158.89V163.84M356.5,158.89H360.1M356.5,163.84H360.1" stroke="#2a2a2a" stroke-width="1" fill="none"/>
<path d="M361.4,156.42V161.36M359.6,156.42H363.2M359.6,161.36H363.2" stroke="#2a2a2a" stroke-width="1" fill="none"/>
<path d="M366.82,149V155.6M365.02,149H368.62M365.02,155.6H368.62" stroke="#2a2a2a" stroke-width="1" fill="none"/>
<path d="M373.49,140.76V149M371.69,140.76H375.29M371.69,149H375.29" stroke="#2a2a2a" stroke-width="1" fill="none"/>
<path d="M380,131.7V141.59M378.2,131.7H381.8M378.2,141.59H381.8" stroke="#2a2a2a" stroke-width="1" fill="none"/>
<path d="M387.75,121.81V133.35M385.95,121.81H389.55M385.95,133.35H389.55" stroke="#2a2a2a" stroke-width="1" fill="none"/>
<path d="M395.5,116.87V128.4M393.7,116.87H397.3M393.7,128.4H397.3" stroke="#2a2a2a" stroke-width="1" fill="none"/>
<path d="M411,127.58V137.47M409.2,127.58H412.8M409.2,137.47H412.8" stroke="#2a2a2a" stroke-width="1" fill="none"/>
<path d="M426.5,130.88V140.76M424.7,130.88H428.3M424.7,140.76H428.3" stroke="#2a2a2a" stroke-width="1" fill="none"/>
<path d="M442,137.88V146.12M440.2,137.88H443.8M440.2,146.12H443.8" stroke="#2a2a2a" stroke-width="1" fill="none"/>
<path d="M457.5,146.94V153.54M455.7,146.94H459.3M455.7,153.54H459.3" stroke="#2a2a2a" stroke-width="1" fill="none"/>
<path d="M280.8,146.53 L296.3,105.33 L311.8,100.39 L321.1,102.86 L327.3,162.6 L331.95,162.19 L347.45,161.78 L358.3,161.36 L361.4,158.89 L366.82,152.3 L373.49,144.88 L380,136.64 L387.75,127.58 L395.5,122.64 L411,132.52 L426.5,135.82 L442,142 L457.5,150.24 L466.8,148.18" stroke="#33604f" stroke-width="1.6" fill="none" stroke-linejoin="round"/>
<path d="M280.8,144.69 L282.64,146.53 L280.8,148.37 L278.96,146.53 Z" fill="#33604f"/>
<path d="M296.3,103.49 L298.14,105.33 L296.3,107.17 L294.46,105.33 Z" fill="#33604f"/>
<path d="M311.8,98.55 L313.64,100.39 L311.8,102.23 L309.96,100.39 Z" fill="#33604f"/>
<path d="M321.1,101.02 L322.94,102.86 L321.1,104.7 L319.26,102.86 Z" fill="#33604f"/>
<path d="M327.3,160.76 L329.14,162.6 L327.3,164.44 L325.46,162.6 Z" fill="#33604f"/>
<path d="M331.95,160.35 L333.79,162.19 L331.95,164.03 L330.11,162.19 Z" fill="#33604f"/>
<path d="M347.45,159.94 L349.29,161.78 L347.45,163.62 L345.61,161.78 Z" fill="#33604f"/>
<path d="M358.3,159.52 L360.14,161.36 L358.3,163.2 L356.46,161.36 Z" fill="#33604f"/>
<path d="M361.4,157.05 L363.24,158.89 L361.4,160.73 L359.56,158.89 Z" fill="#33604f"/>
<path d="M366.82,150.46 L368.66,152.3 L366.82,154.14 L364.99,152.3 Z" fill="#33604f"/>
<path d="M373.49,143.04 L375.33,144.88 L373.49,146.72 L371.65,144.88 Z" fill="#33604f"/>
<path d="M380,134.8 L381.84,136.64 L380,138.48 L378.16,136.64 Z" fill="#33604f"/>
<path d="M387.75,125.74 L389.59,127.58 L387.75,129.42 L385.91,127.58 Z" fill="#33604f"/>
<path d="M395.5,120.8 L397.34,122.64 L395.5,124.48 L393.66,122.64 Z" fill="#33604f"/>
<path d="M411,130.68 L412.84,132.52 L411,134.36 L409.16,132.52 Z" fill="#33604f"/>
<path d="M426.5,133.98 L428.34,135.82 L426.5,137.66 L424.66,135.82 Z" fill="#33604f"/>
<path d="M442,140.16 L443.84,142 L442,143.84 L440.16,142 Z" fill="#33604f"/>
<path d="M457.5,148.4 L459.34,150.24 L457.5,152.08 L455.66,150.24 Z" fill="#33604f"/>
<path d="M466.8,146.34 L468.64,148.18 L466.8,150.02 L464.96,148.18 Z" fill="#33604f"/>
<line x1="280.8" y1="46.8" x2="280.8" y2="173.7" stroke="#111" stroke-width="1.5"/>
<line x1="280.05" y1="172.9" x2="470.3" y2="172.9" stroke="#111" stroke-width="1.5"/>
<line x1="280.8" y1="172.9" x2="280.8" y2="176.4" stroke="#111" stroke-width="1.2"/>
<text x="281.1" y="186.4" font-size="7.6" text-anchor="middle" fill="#3c3c3c" stroke="#3c3c3c" stroke-width="0.2">0</text>
<line x1="296.3" y1="172.9" x2="296.3" y2="176.4" stroke="#111" stroke-width="1.2"/>
<text x="296.6" y="186.4" font-size="7.6" text-anchor="middle" fill="#3c3c3c" stroke="#3c3c3c" stroke-width="0.2">1</text>
<line x1="311.8" y1="172.9" x2="311.8" y2="176.4" stroke="#111" stroke-width="1.2"/>
<text x="312.1" y="186.4" font-size="7.6" text-anchor="middle" fill="#3c3c3c" stroke="#3c3c3c" stroke-width="0.2">2</text>
<line x1="327.3" y1="172.9" x2="327.3" y2="176.4" stroke="#111" stroke-width="1.2"/>
<text x="327.6" y="186.4" font-size="7.6" text-anchor="middle" fill="#3c3c3c" stroke="#3c3c3c" stroke-width="0.2">3</text>
<line x1="342.8" y1="172.9" x2="342.8" y2="176.4" stroke="#111" stroke-width="1.2"/>
<text x="343.1" y="186.4" font-size="7.6" text-anchor="middle" fill="#3c3c3c" stroke="#3c3c3c" stroke-width="0.2">4</text>
<line x1="358.3" y1="172.9" x2="358.3" y2="176.4" stroke="#111" stroke-width="1.2"/>
<text x="358.6" y="186.4" font-size="7.6" text-anchor="middle" fill="#3c3c3c" stroke="#3c3c3c" stroke-width="0.2">5</text>
<line x1="373.8" y1="172.9" x2="373.8" y2="176.4" stroke="#111" stroke-width="1.2"/>
<text x="374.1" y="186.4" font-size="7.6" text-anchor="middle" fill="#3c3c3c" stroke="#3c3c3c" stroke-width="0.2">6</text>
<line x1="389.3" y1="172.9" x2="389.3" y2="176.4" stroke="#111" stroke-width="1.2"/>
<text x="389.6" y="186.4" font-size="7.6" text-anchor="middle" fill="#3c3c3c" stroke="#3c3c3c" stroke-width="0.2">7</text>
<line x1="404.8" y1="172.9" x2="404.8" y2="176.4" stroke="#111" stroke-width="1.2"/>
<text x="405.1" y="186.4" font-size="7.6" text-anchor="middle" fill="#3c3c3c" stroke="#3c3c3c" stroke-width="0.2">8</text>
<line x1="420.3" y1="172.9" x2="420.3" y2="176.4" stroke="#111" stroke-width="1.2"/>
<text x="420.6" y="186.4" font-size="7.6" text-anchor="middle" fill="#3c3c3c" stroke="#3c3c3c" stroke-width="0.2">9</text>
<line x1="435.8" y1="172.9" x2="435.8" y2="176.4" stroke="#111" stroke-width="1.2"/>
<text x="436.6" y="186.4" font-size="7.6" text-anchor="middle" fill="#3c3c3c" stroke="#3c3c3c" stroke-width="0.2" textLength="7.4" lengthAdjust="spacingAndGlyphs">10</text>
<line x1="451.3" y1="172.9" x2="451.3" y2="176.4" stroke="#111" stroke-width="1.2"/>
<text x="452.1" y="186.4" font-size="7.6" text-anchor="middle" fill="#3c3c3c" stroke="#3c3c3c" stroke-width="0.2" textLength="7.4" lengthAdjust="spacingAndGlyphs">11</text>
<line x1="466.8" y1="172.9" x2="466.8" y2="176.4" stroke="#111" stroke-width="1.2"/>
<text x="467.6" y="186.4" font-size="7.6" text-anchor="middle" fill="#3c3c3c" stroke="#3c3c3c" stroke-width="0.2" textLength="7.4" lengthAdjust="spacingAndGlyphs">12</text>
<line x1="277.6" y1="172.9" x2="280.8" y2="172.9" stroke="#111" stroke-width="1.2"/>
<line x1="278.9" y1="168.32" x2="280.8" y2="168.32" stroke="#111" stroke-width="1.1"/>
<line x1="278.9" y1="163.74" x2="280.8" y2="163.74" stroke="#111" stroke-width="1.1"/>
<line x1="278.9" y1="159.17" x2="280.8" y2="159.17" stroke="#111" stroke-width="1.1"/>
<line x1="278.9" y1="154.59" x2="280.8" y2="154.59" stroke="#111" stroke-width="1.1"/>
<line x1="278.9" y1="150.01" x2="280.8" y2="150.01" stroke="#111" stroke-width="1.1"/>
<line x1="278.9" y1="145.43" x2="280.8" y2="145.43" stroke="#111" stroke-width="1.1"/>
<line x1="278.9" y1="140.86" x2="280.8" y2="140.86" stroke="#111" stroke-width="1.1"/>
<line x1="278.9" y1="136.28" x2="280.8" y2="136.28" stroke="#111" stroke-width="1.1"/>
<line x1="277.6" y1="131.7" x2="280.8" y2="131.7" stroke="#111" stroke-width="1.2"/>
<line x1="278.9" y1="127.12" x2="280.8" y2="127.12" stroke="#111" stroke-width="1.1"/>
<line x1="278.9" y1="122.54" x2="280.8" y2="122.54" stroke="#111" stroke-width="1.1"/>
<line x1="278.9" y1="117.97" x2="280.8" y2="117.97" stroke="#111" stroke-width="1.1"/>
<line x1="278.9" y1="113.39" x2="280.8" y2="113.39" stroke="#111" stroke-width="1.1"/>
<line x1="278.9" y1="108.81" x2="280.8" y2="108.81" stroke="#111" stroke-width="1.1"/>
<line x1="278.9" y1="104.23" x2="280.8" y2="104.23" stroke="#111" stroke-width="1.1"/>
<line x1="278.9" y1="99.66" x2="280.8" y2="99.66" stroke="#111" stroke-width="1.1"/>
<line x1="278.9" y1="95.08" x2="280.8" y2="95.08" stroke="#111" stroke-width="1.1"/>
<line x1="277.6" y1="90.5" x2="280.8" y2="90.5" stroke="#111" stroke-width="1.2"/>
<line x1="278.9" y1="85.92" x2="280.8" y2="85.92" stroke="#111" stroke-width="1.1"/>
<line x1="278.9" y1="81.34" x2="280.8" y2="81.34" stroke="#111" stroke-width="1.1"/>
<line x1="278.9" y1="76.77" x2="280.8" y2="76.77" stroke="#111" stroke-width="1.1"/>
<line x1="278.9" y1="72.19" x2="280.8" y2="72.19" stroke="#111" stroke-width="1.1"/>
<line x1="278.9" y1="67.61" x2="280.8" y2="67.61" stroke="#111" stroke-width="1.1"/>
<line x1="278.9" y1="63.03" x2="280.8" y2="63.03" stroke="#111" stroke-width="1.1"/>
<line x1="278.9" y1="58.46" x2="280.8" y2="58.46" stroke="#111" stroke-width="1.1"/>
<line x1="278.9" y1="53.88" x2="280.8" y2="53.88" stroke="#111" stroke-width="1.1"/>
<line x1="277.6" y1="49.3" x2="280.8" y2="49.3" stroke="#111" stroke-width="1.2"/>
<text x="274.4" y="175.5" font-size="7.6" text-anchor="end" fill="#3c3c3c" stroke="#3c3c3c" stroke-width="0.2">0</text>
<text x="274.4" y="134.3" font-size="7.6" text-anchor="end" fill="#3c3c3c" stroke="#3c3c3c" stroke-width="0.2">5</text>
<text x="274.4" y="93.1" font-size="7.6" text-anchor="end" fill="#3c3c3c" stroke="#3c3c3c" stroke-width="0.2" textLength="8.5" lengthAdjust="spacingAndGlyphs">10</text>
<text x="274.4" y="51.9" font-size="7.6" text-anchor="end" fill="#3c3c3c" stroke="#3c3c3c" stroke-width="0.2" textLength="8.3" lengthAdjust="spacingAndGlyphs">15</text>
<text x="288.8" y="31.6" font-size="7.2" fill="#3c3c3c" stroke="#3c3c3c" stroke-width="0.08" textLength="41.7" lengthAdjust="spacingAndGlyphs">End of Bolus</text>
<text x="336.2" y="20.3" font-size="7.2" fill="#3c3c3c" stroke="#3c3c3c" stroke-width="0.08" textLength="154.2" lengthAdjust="spacingAndGlyphs">End of Infusion (Cohort 4)/2nd Bolus (Cohort 5)</text>
<text x="353.8" y="31.8" font-size="7.2" fill="#3c3c3c" stroke="#3c3c3c" stroke-width="0.08" textLength="82.4" lengthAdjust="spacingAndGlyphs">End of Infusion (Cohort 6)</text>
<line x1="327.4" y1="33.4" x2="327.4" y2="43.8" stroke="#111" stroke-width="1.1"/>
<path d="M325.1,42.2 L329.7,42.2 L327.4,46.8 Z" fill="#111"/>
<line x1="339" y1="24.9" x2="339" y2="43.8" stroke="#111" stroke-width="1.1"/>
<path d="M336.7,42.2 L341.3,42.2 L339,46.8 Z" fill="#111"/>
<line x1="358.5" y1="33.4" x2="358.5" y2="43.8" stroke="#111" stroke-width="1.1"/>
<path d="M356.2,42.2 L360.8,42.2 L358.5,46.8 Z" fill="#111"/>
<line x1="365.4" y1="54.6" x2="374.6" y2="54.6" stroke="#565d6c" stroke-width="1.3"/>
<circle cx="370" cy="54.6" r="1.71" fill="#565d6c"/>
<text x="377.2" y="57" font-size="7.2" fill="#3c3c3c" stroke="#3c3c3c" stroke-width="0.08" textLength="93.6" lengthAdjust="spacingAndGlyphs">Placebo [Cohorts 4-6] (N=9)</text>
<line x1="365.4" y1="64.2" x2="374.6" y2="64.2" stroke="#3c2468" stroke-width="1.3"/>
<circle cx="370" cy="64.2" r="1.71" fill="#3c2468"/>
<text x="377.2" y="66.6" font-size="7.2" fill="#3c3c3c" stroke="#3c3c3c" stroke-width="0.08" textLength="131.4" lengthAdjust="spacingAndGlyphs">420 mg/4 mg x 45 min [Cohort 4] (N=6)</text>
<line x1="365.4" y1="73.2" x2="374.6" y2="73.2" stroke="#eba630" stroke-width="1.3"/>
<path d="M370,75.27 L372.07,71.54 L367.93,71.54 Z" fill="#eba630"/>
<text x="377.2" y="75.6" font-size="7.2" fill="#3c3c3c" stroke="#3c3c3c" stroke-width="0.08" textLength="130.5" lengthAdjust="spacingAndGlyphs">420 mg/180 mg bolus [Cohort 5] (N=6)</text>
<line x1="365.4" y1="82.4" x2="374.6" y2="82.4" stroke="#33604f" stroke-width="1.3"/>
<path d="M370,80.33 L372.07,82.4 L370,84.47 L367.93,82.4 Z" fill="#33604f"/>
<text x="377.2" y="84.8" font-size="7.2" fill="#3c3c3c" stroke="#3c3c3c" stroke-width="0.08" textLength="118" lengthAdjust="spacingAndGlyphs">420 mg/4 mg x 2 h [Cohort 6] (N=6)</text>
<text transform="translate(259.5,109.9) rotate(-90)" x="-39.85" y="0" font-size="8.6" fill="#222" textLength="79.7" lengthAdjust="spacingAndGlyphs" stroke="#222" stroke-width="0.22">Unbound apixaban (ng/mL)</text>
<text x="333.2" y="200" font-size="9" fill="#222" textLength="85.3" lengthAdjust="spacingAndGlyphs" stroke="#222" stroke-width="0.35">Time after apixaban dose (h)</text>
<line x1="87.8" y1="260" x2="87.8" y2="384.7" stroke="#9a9a9a" stroke-width="2"/>
<path d="M41.3,372.13V374.61M39.5,372.13H43.1M39.5,374.61H43.1" stroke="#2a2a2a" stroke-width="1" fill="none"/>
<path d="M56.8,359.98V364.1M55,359.98H58.6M55,364.1H58.6" stroke="#2a2a2a" stroke-width="1" fill="none"/>
<path d="M72.3,354.42V359.36M70.5,354.42H74.1M70.5,359.36H74.1" stroke="#2a2a2a" stroke-width="1" fill="none"/>
<path d="M81.6,353.39V358.33M79.8,353.39H83.4M79.8,358.33H83.4" stroke="#2a2a2a" stroke-width="1" fill="none"/>
<path d="M87.8,355.86V359.16M86,355.86H89.6M86,359.16H89.6" stroke="#2a2a2a" stroke-width="1" fill="none"/>
<path d="M91.67,355.86V359.16M89.88,355.86H93.47M89.88,359.16H93.47" stroke="#2a2a2a" stroke-width="1" fill="none"/>
<path d="M95.55,356.89V360.19M93.75,356.89H97.35M93.75,360.19H97.35" stroke="#2a2a2a" stroke-width="1" fill="none"/>
<path d="M103.3,360.19V363.48M101.5,360.19H105.1M101.5,363.48H105.1" stroke="#2a2a2a" stroke-width="1" fill="none"/>
<path d="M111.05,360.19V363.48M109.25,360.19H112.85M109.25,363.48H112.85" stroke="#2a2a2a" stroke-width="1" fill="none"/>
<path d="M118.8,361.01V364.31M117,361.01H120.6M117,364.31H120.6" stroke="#2a2a2a" stroke-width="1" fill="none"/>
<path d="M126.55,362.86V366.16M124.75,362.86H128.35M124.75,366.16H128.35" stroke="#2a2a2a" stroke-width="1" fill="none"/>
<path d="M134.3,364.92V368.22M132.5,364.92H136.1M132.5,368.22H136.1" stroke="#2a2a2a" stroke-width="1" fill="none"/>
<path d="M142.05,366.78V369.66M140.25,366.78H143.85M140.25,369.66H143.85" stroke="#2a2a2a" stroke-width="1" fill="none"/>
<path d="M157.55,369.25V372.13M155.75,369.25H159.35M155.75,372.13H159.35" stroke="#2a2a2a" stroke-width="1" fill="none"/>
<path d="M173.05,370.69V373.16M171.25,370.69H174.85M171.25,373.16H174.85" stroke="#2a2a2a" stroke-width="1" fill="none"/>
<path d="M188.55,372.96V375.02M186.75,372.96H190.35M186.75,375.02H190.35" stroke="#2a2a2a" stroke-width="1" fill="none"/>
<path d="M204.05,375.22V376.87M202.25,375.22H205.85M202.25,376.87H205.85" stroke="#2a2a2a" stroke-width="1" fill="none"/>
<path d="M219.55,376.25V377.9M217.75,376.25H221.35M217.75,377.9H221.35" stroke="#2a2a2a" stroke-width="1" fill="none"/>
<path d="M41.3,373.37 L56.8,362.04 L72.3,356.89 L81.6,355.86 L87.8,357.51 L91.67,357.51 L95.55,358.54 L103.3,361.83 L111.05,361.83 L118.8,362.66 L126.55,364.51 L134.3,366.57 L142.05,368.22 L157.55,370.69 L173.05,371.93 L188.55,373.99 L204.05,376.05 L219.55,377.08 L227.3,377.49" stroke="#4e5661" stroke-width="1.6" fill="none" stroke-linejoin="round"/>
<circle cx="41.3" cy="373.37" r="1.9" fill="#4e5661"/>
<circle cx="56.8" cy="362.04" r="1.9" fill="#4e5661"/>
<circle cx="72.3" cy="356.89" r="1.9" fill="#4e5661"/>
<circle cx="81.6" cy="355.86" r="1.9" fill="#4e5661"/>
<circle cx="87.8" cy="357.51" r="1.9" fill="#4e5661"/>
<circle cx="91.67" cy="357.51" r="1.9" fill="#4e5661"/>
<circle cx="95.55" cy="358.54" r="1.9" fill="#4e5661"/>
<circle cx="103.3" cy="361.83" r="1.9" fill="#4e5661"/>
<circle cx="111.05" cy="361.83" r="1.9" fill="#4e5661"/>
<circle cx="118.8" cy="362.66" r="1.9" fill="#4e5661"/>
<circle cx="126.55" cy="364.51" r="1.9" fill="#4e5661"/>
<circle cx="134.3" cy="366.57" r="1.9" fill="#4e5661"/>
<circle cx="142.05" cy="368.22" r="1.9" fill="#4e5661"/>
<circle cx="157.55" cy="370.69" r="1.9" fill="#4e5661"/>
<circle cx="173.05" cy="371.93" r="1.9" fill="#4e5661"/>
<circle cx="188.55" cy="373.99" r="1.9" fill="#4e5661"/>
<circle cx="204.05" cy="376.05" r="1.9" fill="#4e5661"/>
<circle cx="219.55" cy="377.08" r="1.9" fill="#4e5661"/>
<circle cx="227.3" cy="377.49" r="1.9" fill="#4e5661"/>
<path d="M41.3,374.19V376.67M39.5,374.19H43.1M39.5,376.67H43.1" stroke="#2a2a2a" stroke-width="1" fill="none"/>
<path d="M56.8,367.6V370.9M55,367.6H58.6M55,370.9H58.6" stroke="#2a2a2a" stroke-width="1" fill="none"/>
<path d="M72.3,359.36V363.48M70.5,359.36H74.1M70.5,363.48H74.1" stroke="#2a2a2a" stroke-width="1" fill="none"/>
<path d="M81.6,359.36V363.48M79.8,359.36H83.4M79.8,363.48H83.4" stroke="#2a2a2a" stroke-width="1" fill="none"/>
<path d="M87.8,345.56V351.33M86,345.56H89.6M86,351.33H89.6" stroke="#2a2a2a" stroke-width="1" fill="none"/>
<path d="M91.67,343.09V348.86M89.88,343.09H93.47M89.88,348.86H93.47" stroke="#2a2a2a" stroke-width="1" fill="none"/>
<path d="M95.55,345.35V350.3M93.75,345.35H97.35M93.75,350.3H97.35" stroke="#2a2a2a" stroke-width="1" fill="none"/>
<path d="M103.3,351.74V355.86M101.5,351.74H105.1M101.5,355.86H105.1" stroke="#2a2a2a" stroke-width="1" fill="none"/>
<path d="M111.05,355.86V359.98M109.25,355.86H112.85M109.25,359.98H112.85" stroke="#2a2a2a" stroke-width="1" fill="none"/>
<path d="M118.8,359.77V363.07M117,359.77H120.6M117,363.07H120.6" stroke="#2a2a2a" stroke-width="1" fill="none"/>
<path d="M126.55,364.1V367.4M124.75,364.1H128.35M124.75,367.4H128.35" stroke="#2a2a2a" stroke-width="1" fill="none"/>
<path d="M134.3,365.75V369.04M132.5,365.75H136.1M132.5,369.04H136.1" stroke="#2a2a2a" stroke-width="1" fill="none"/>
<path d="M142.05,368.22V371.1M140.25,368.22H143.85M140.25,371.1H143.85" stroke="#2a2a2a" stroke-width="1" fill="none"/>
<path d="M157.55,369.87V372.34M155.75,369.87H159.35M155.75,372.34H159.35" stroke="#2a2a2a" stroke-width="1" fill="none"/>
<path d="M173.05,370.9V373.37M171.25,370.9H174.85M171.25,373.37H174.85" stroke="#2a2a2a" stroke-width="1" fill="none"/>
<path d="M188.55,373.37V375.43M186.75,373.37H190.35M186.75,375.43H190.35" stroke="#2a2a2a" stroke-width="1" fill="none"/>
<path d="M204.05,375.43V377.08M202.25,375.43H205.85M202.25,377.08H205.85" stroke="#2a2a2a" stroke-width="1" fill="none"/>
<path d="M219.55,376.67V378.31M217.75,376.67H221.35M217.75,378.31H221.35" stroke="#2a2a2a" stroke-width="1" fill="none"/>
<path d="M41.3,375.43 L56.8,369.25 L72.3,361.42 L81.6,361.42 L87.8,348.44 L91.67,345.97 L95.55,347.83 L103.3,353.8 L111.05,357.92 L118.8,361.42 L126.55,365.75 L134.3,367.4 L142.05,369.66 L157.55,371.1 L173.05,372.13 L188.55,374.4 L204.05,376.25 L219.55,377.49 L227.3,377.9" stroke="#a8102e" stroke-width="1.6" fill="none" stroke-linejoin="round"/>
<rect x="39.5" y="373.63" width="3.6" height="3.6" fill="#a8102e"/>
<rect x="55" y="367.45" width="3.6" height="3.6" fill="#a8102e"/>
<rect x="70.5" y="359.62" width="3.6" height="3.6" fill="#a8102e"/>
<rect x="79.8" y="359.62" width="3.6" height="3.6" fill="#a8102e"/>
<rect x="86" y="346.64" width="3.6" height="3.6" fill="#a8102e"/>
<rect x="89.88" y="344.17" width="3.6" height="3.6" fill="#a8102e"/>
<rect x="93.75" y="346.03" width="3.6" height="3.6" fill="#a8102e"/>
<rect x="101.5" y="352" width="3.6" height="3.6" fill="#a8102e"/>
<rect x="109.25" y="356.12" width="3.6" height="3.6" fill="#a8102e"/>
<rect x="117" y="359.62" width="3.6" height="3.6" fill="#a8102e"/>
<rect x="124.75" y="363.95" width="3.6" height="3.6" fill="#a8102e"/>
<rect x="132.5" y="365.6" width="3.6" height="3.6" fill="#a8102e"/>
<rect x="140.25" y="367.86" width="3.6" height="3.6" fill="#a8102e"/>
<rect x="155.75" y="369.3" width="3.6" height="3.6" fill="#a8102e"/>
<rect x="171.25" y="370.33" width="3.6" height="3.6" fill="#a8102e"/>
<rect x="186.75" y="372.6" width="3.6" height="3.6" fill="#a8102e"/>
<rect x="202.25" y="374.45" width="3.6" height="3.6" fill="#a8102e"/>
<rect x="217.75" y="375.69" width="3.6" height="3.6" fill="#a8102e"/>
<rect x="225.5" y="376.1" width="3.6" height="3.6" fill="#a8102e"/>
<path d="M41.3,372.13V374.61M39.5,372.13H43.1M39.5,374.61H43.1" stroke="#2a2a2a" stroke-width="1" fill="none"/>
<path d="M56.8,358.33V363.28M55,358.33H58.6M55,363.28H58.6" stroke="#2a2a2a" stroke-width="1" fill="none"/>
<path d="M72.3,351.53V358.13M70.5,351.53H74.1M70.5,358.13H74.1" stroke="#2a2a2a" stroke-width="1" fill="none"/>
<path d="M81.6,350.09V357.51M79.8,350.09H83.4M79.8,357.51H83.4" stroke="#2a2a2a" stroke-width="1" fill="none"/>
<path d="M87.8,319.4V329.7M86,319.4H89.6M86,329.7H89.6" stroke="#2a2a2a" stroke-width="1" fill="none"/>
<path d="M91.67,314.66V324.96M89.88,314.66H93.47M89.88,324.96H93.47" stroke="#2a2a2a" stroke-width="1" fill="none"/>
<path d="M95.55,320.43V328.67M93.75,320.43H97.35M93.75,328.67H97.35" stroke="#2a2a2a" stroke-width="1" fill="none"/>
<path d="M103.3,335.88V342.06M101.5,335.88H105.1M101.5,342.06H105.1" stroke="#2a2a2a" stroke-width="1" fill="none"/>
<path d="M111.05,342.26V348.44M109.25,342.26H112.85M109.25,348.44H112.85" stroke="#2a2a2a" stroke-width="1" fill="none"/>
<path d="M118.8,349.89V354.83M117,349.89H120.6M117,354.83H120.6" stroke="#2a2a2a" stroke-width="1" fill="none"/>
<path d="M126.55,355.45V360.39M124.75,355.45H128.35M124.75,360.39H128.35" stroke="#2a2a2a" stroke-width="1" fill="none"/>
<path d="M134.3,357.1V362.04M132.5,357.1H136.1M132.5,362.04H136.1" stroke="#2a2a2a" stroke-width="1" fill="none"/>
<path d="M142.05,361.01V365.13M140.25,361.01H143.85M140.25,365.13H143.85" stroke="#2a2a2a" stroke-width="1" fill="none"/>
<path d="M157.55,366.16V369.46M155.75,366.16H159.35M155.75,369.46H159.35" stroke="#2a2a2a" stroke-width="1" fill="none"/>
<path d="M173.05,368.63V371.93M171.25,368.63H174.85M171.25,371.93H174.85" stroke="#2a2a2a" stroke-width="1" fill="none"/>
<path d="M188.55,372.13V374.61M186.75,372.13H190.35M186.75,374.61H190.35" stroke="#2a2a2a" stroke-width="1" fill="none"/>
<path d="M204.05,374.61V376.67M202.25,374.61H205.85M202.25,376.67H205.85" stroke="#2a2a2a" stroke-width="1" fill="none"/>
<path d="M219.55,375.84V377.49M217.75,375.84H221.35M217.75,377.49H221.35" stroke="#2a2a2a" stroke-width="1" fill="none"/>
<path d="M41.3,373.37 L56.8,360.8 L72.3,354.83 L81.6,353.8 L87.8,324.55 L91.67,319.81 L95.55,324.55 L103.3,338.97 L111.05,345.35 L118.8,352.36 L126.55,357.92 L134.3,359.57 L142.05,363.07 L157.55,367.81 L173.05,370.28 L188.55,373.37 L204.05,375.64 L219.55,376.67 L227.3,377.08" stroke="#2a4272" stroke-width="1.6" fill="none" stroke-linejoin="round"/>
<path d="M41.3,371.07 L43.6,373.37 L41.3,375.67 L39,373.37 Z" fill="#2a4272"/>
<path d="M56.8,358.5 L59.1,360.8 L56.8,363.1 L54.5,360.8 Z" fill="#2a4272"/>
<path d="M72.3,352.53 L74.6,354.83 L72.3,357.13 L70,354.83 Z" fill="#2a4272"/>
<path d="M81.6,351.5 L83.9,353.8 L81.6,356.1 L79.3,353.8 Z" fill="#2a4272"/>
<path d="M87.8,322.25 L90.1,324.55 L87.8,326.85 L85.5,324.55 Z" fill="#2a4272"/>
<path d="M91.67,317.51 L93.97,319.81 L91.67,322.11 L89.38,319.81 Z" fill="#2a4272"/>
<path d="M95.55,322.25 L97.85,324.55 L95.55,326.85 L93.25,324.55 Z" fill="#2a4272"/>
<path d="M103.3,336.67 L105.6,338.97 L103.3,341.27 L101,338.97 Z" fill="#2a4272"/>
<path d="M111.05,343.05 L113.35,345.35 L111.05,347.65 L108.75,345.35 Z" fill="#2a4272"/>
<path d="M118.8,350.06 L121.1,352.36 L118.8,354.66 L116.5,352.36 Z" fill="#2a4272"/>
<path d="M126.55,355.62 L128.85,357.92 L126.55,360.22 L124.25,357.92 Z" fill="#2a4272"/>
<path d="M134.3,357.27 L136.6,359.57 L134.3,361.87 L132,359.57 Z" fill="#2a4272"/>
<path d="M142.05,360.77 L144.35,363.07 L142.05,365.37 L139.75,363.07 Z" fill="#2a4272"/>
<path d="M157.55,365.51 L159.85,367.81 L157.55,370.11 L155.25,367.81 Z" fill="#2a4272"/>
<path d="M173.05,367.98 L175.35,370.28 L173.05,372.58 L170.75,370.28 Z" fill="#2a4272"/>
<path d="M188.55,371.07 L190.85,373.37 L188.55,375.67 L186.25,373.37 Z" fill="#2a4272"/>
<path d="M204.05,373.34 L206.35,375.64 L204.05,377.94 L201.75,375.64 Z" fill="#2a4272"/>
<path d="M219.55,374.37 L221.85,376.67 L219.55,378.97 L217.25,376.67 Z" fill="#2a4272"/>
<path d="M227.3,374.78 L229.6,377.08 L227.3,379.38 L225,377.08 Z" fill="#2a4272"/>
<path d="M41.3,372.13V374.61M39.5,372.13H43.1M39.5,374.61H43.1" stroke="#2a2a2a" stroke-width="1" fill="none"/>
<path d="M56.8,358.33V363.28M55,358.33H58.6M55,363.28H58.6" stroke="#2a2a2a" stroke-width="1" fill="none"/>
<path d="M72.3,356.27V362.04M70.5,356.27H74.1M70.5,362.04H74.1" stroke="#2a2a2a" stroke-width="1" fill="none"/>
<path d="M81.6,355.24V361.42M79.8,355.24H83.4M79.8,361.42H83.4" stroke="#2a2a2a" stroke-width="1" fill="none"/>
<path d="M87.8,311.36V323.72M86,311.36H89.6M86,323.72H89.6" stroke="#2a2a2a" stroke-width="1" fill="none"/>
<path d="M91.67,304.36V318.78M89.88,304.36H93.47M89.88,318.78H93.47" stroke="#2a2a2a" stroke-width="1" fill="none"/>
<path d="M95.55,311.78V320.84M93.75,311.78H97.35M93.75,320.84H97.35" stroke="#2a2a2a" stroke-width="1" fill="none"/>
<path d="M103.3,319.81V327.23M101.5,319.81H105.1M101.5,327.23H105.1" stroke="#2a2a2a" stroke-width="1" fill="none"/>
<path d="M111.05,329.9V337.32M109.25,329.9H112.85M109.25,337.32H112.85" stroke="#2a2a2a" stroke-width="1" fill="none"/>
<path d="M118.8,337.53V344.94M117,337.53H120.6M117,344.94H120.6" stroke="#2a2a2a" stroke-width="1" fill="none"/>
<path d="M126.55,343.5V350.92M124.75,343.5H128.35M124.75,350.92H128.35" stroke="#2a2a2a" stroke-width="1" fill="none"/>
<path d="M134.3,350.5V356.68M132.5,350.5H136.1M132.5,356.68H136.1" stroke="#2a2a2a" stroke-width="1" fill="none"/>
<path d="M142.05,354.42V360.19M140.25,354.42H143.85M140.25,360.19H143.85" stroke="#2a2a2a" stroke-width="1" fill="none"/>
<path d="M157.55,359.98V364.92M155.75,359.98H159.35M155.75,364.92H159.35" stroke="#2a2a2a" stroke-width="1" fill="none"/>
<path d="M173.05,364.31V369.25M171.25,364.31H174.85M171.25,369.25H174.85" stroke="#2a2a2a" stroke-width="1" fill="none"/>
<path d="M188.55,368.63V372.75M186.75,368.63H190.35M186.75,372.75H190.35" stroke="#2a2a2a" stroke-width="1" fill="none"/>
<path d="M204.05,371.72V375.02M202.25,371.72H205.85M202.25,375.02H205.85" stroke="#2a2a2a" stroke-width="1" fill="none"/>
<path d="M219.55,373.78V376.25M217.75,373.78H221.35M217.75,376.25H221.35" stroke="#2a2a2a" stroke-width="1" fill="none"/>
<path d="M41.3,373.37 L56.8,360.8 L72.3,359.16 L81.6,358.33 L87.8,317.54 L91.67,311.57 L95.55,316.31 L103.3,323.52 L111.05,333.61 L118.8,341.23 L126.55,347.21 L134.3,353.59 L142.05,357.3 L157.55,362.45 L173.05,366.78 L188.55,370.69 L204.05,373.37 L219.55,375.02 L227.3,375.43" stroke="#8db563" stroke-width="1.6" fill="none" stroke-linejoin="round"/>
<path d="M41.3,371.07 L43.6,375.21 L39,375.21 Z" fill="#8db563"/>
<path d="M56.8,358.5 L59.1,362.64 L54.5,362.64 Z" fill="#8db563"/>
<path d="M72.3,356.86 L74.6,361 L70,361 Z" fill="#8db563"/>
<path d="M81.6,356.03 L83.9,360.17 L79.3,360.17 Z" fill="#8db563"/>
<path d="M87.8,315.24 L90.1,319.38 L85.5,319.38 Z" fill="#8db563"/>
<path d="M91.67,309.27 L93.97,313.41 L89.38,313.41 Z" fill="#8db563"/>
<path d="M95.55,314.01 L97.85,318.15 L93.25,318.15 Z" fill="#8db563"/>
<path d="M103.3,321.22 L105.6,325.36 L101,325.36 Z" fill="#8db563"/>
<path d="M111.05,331.31 L113.35,335.45 L108.75,335.45 Z" fill="#8db563"/>
<path d="M118.8,338.93 L121.1,343.07 L116.5,343.07 Z" fill="#8db563"/>
<path d="M126.55,344.91 L128.85,349.05 L124.25,349.05 Z" fill="#8db563"/>
<path d="M134.3,351.29 L136.6,355.43 L132,355.43 Z" fill="#8db563"/>
<path d="M142.05,355 L144.35,359.14 L139.75,359.14 Z" fill="#8db563"/>
<path d="M157.55,360.15 L159.85,364.29 L155.25,364.29 Z" fill="#8db563"/>
<path d="M173.05,364.48 L175.35,368.62 L170.75,368.62 Z" fill="#8db563"/>
<path d="M188.55,368.39 L190.85,372.53 L186.25,372.53 Z" fill="#8db563"/>
<path d="M204.05,371.07 L206.35,375.21 L201.75,375.21 Z" fill="#8db563"/>
<path d="M219.55,372.72 L221.85,376.86 L217.25,376.86 Z" fill="#8db563"/>
<path d="M227.3,373.13 L229.6,377.27 L225,377.27 Z" fill="#8db563"/>
<line x1="41.3" y1="258" x2="41.3" y2="385.5" stroke="#111" stroke-width="1.5"/>
<line x1="40.55" y1="384.7" x2="230.8" y2="384.7" stroke="#111" stroke-width="1.5"/>
<line x1="41.3" y1="384.7" x2="41.3" y2="388.2" stroke="#111" stroke-width="1.2"/>
<text x="41.6" y="398.2" font-size="7.6" text-anchor="middle" fill="#3c3c3c" stroke="#3c3c3c" stroke-width="0.2">0</text>
<line x1="56.8" y1="384.7" x2="56.8" y2="388.2" stroke="#111" stroke-width="1.2"/>
<text x="57.1" y="398.2" font-size="7.6" text-anchor="middle" fill="#3c3c3c" stroke="#3c3c3c" stroke-width="0.2">1</text>
<line x1="72.3" y1="384.7" x2="72.3" y2="388.2" stroke="#111" stroke-width="1.2"/>
<text x="72.6" y="398.2" font-size="7.6" text-anchor="middle" fill="#3c3c3c" stroke="#3c3c3c" stroke-width="0.2">2</text>
<line x1="87.8" y1="384.7" x2="87.8" y2="388.2" stroke="#111" stroke-width="1.2"/>
<text x="88.1" y="398.2" font-size="7.6" text-anchor="middle" fill="#3c3c3c" stroke="#3c3c3c" stroke-width="0.2">3</text>
<line x1="103.3" y1="384.7" x2="103.3" y2="388.2" stroke="#111" stroke-width="1.2"/>
<text x="103.6" y="398.2" font-size="7.6" text-anchor="middle" fill="#3c3c3c" stroke="#3c3c3c" stroke-width="0.2">4</text>
<line x1="118.8" y1="384.7" x2="118.8" y2="388.2" stroke="#111" stroke-width="1.2"/>
<text x="119.1" y="398.2" font-size="7.6" text-anchor="middle" fill="#3c3c3c" stroke="#3c3c3c" stroke-width="0.2">5</text>
<line x1="134.3" y1="384.7" x2="134.3" y2="388.2" stroke="#111" stroke-width="1.2"/>
<text x="134.6" y="398.2" font-size="7.6" text-anchor="middle" fill="#3c3c3c" stroke="#3c3c3c" stroke-width="0.2">6</text>
<line x1="149.8" y1="384.7" x2="149.8" y2="388.2" stroke="#111" stroke-width="1.2"/>
<text x="150.1" y="398.2" font-size="7.6" text-anchor="middle" fill="#3c3c3c" stroke="#3c3c3c" stroke-width="0.2">7</text>
<line x1="165.3" y1="384.7" x2="165.3" y2="388.2" stroke="#111" stroke-width="1.2"/>
<text x="165.6" y="398.2" font-size="7.6" text-anchor="middle" fill="#3c3c3c" stroke="#3c3c3c" stroke-width="0.2">8</text>
<line x1="180.8" y1="384.7" x2="180.8" y2="388.2" stroke="#111" stroke-width="1.2"/>
<text x="181.1" y="398.2" font-size="7.6" text-anchor="middle" fill="#3c3c3c" stroke="#3c3c3c" stroke-width="0.2">9</text>
<line x1="196.3" y1="384.7" x2="196.3" y2="388.2" stroke="#111" stroke-width="1.2"/>
<text x="197.1" y="398.2" font-size="7.6" text-anchor="middle" fill="#3c3c3c" stroke="#3c3c3c" stroke-width="0.2" textLength="7.4" lengthAdjust="spacingAndGlyphs">10</text>
<line x1="211.8" y1="384.7" x2="211.8" y2="388.2" stroke="#111" stroke-width="1.2"/>
<text x="212.6" y="398.2" font-size="7.6" text-anchor="middle" fill="#3c3c3c" stroke="#3c3c3c" stroke-width="0.2" textLength="7.4" lengthAdjust="spacingAndGlyphs">11</text>
<line x1="227.3" y1="384.7" x2="227.3" y2="388.2" stroke="#111" stroke-width="1.2"/>
<text x="228.1" y="398.2" font-size="7.6" text-anchor="middle" fill="#3c3c3c" stroke="#3c3c3c" stroke-width="0.2" textLength="7.4" lengthAdjust="spacingAndGlyphs">12</text>
<line x1="38.1" y1="384.7" x2="41.3" y2="384.7" stroke="#111" stroke-width="1.2"/>
<line x1="39.4" y1="380.12" x2="41.3" y2="380.12" stroke="#111" stroke-width="1.1"/>
<line x1="39.4" y1="375.54" x2="41.3" y2="375.54" stroke="#111" stroke-width="1.1"/>
<line x1="39.4" y1="370.97" x2="41.3" y2="370.97" stroke="#111" stroke-width="1.1"/>
<line x1="39.4" y1="366.39" x2="41.3" y2="366.39" stroke="#111" stroke-width="1.1"/>
<line x1="39.4" y1="361.81" x2="41.3" y2="361.81" stroke="#111" stroke-width="1.1"/>
<line x1="39.4" y1="357.23" x2="41.3" y2="357.23" stroke="#111" stroke-width="1.1"/>
<line x1="39.4" y1="352.66" x2="41.3" y2="352.66" stroke="#111" stroke-width="1.1"/>
<line x1="39.4" y1="348.08" x2="41.3" y2="348.08" stroke="#111" stroke-width="1.1"/>
<line x1="38.1" y1="343.5" x2="41.3" y2="343.5" stroke="#111" stroke-width="1.2"/>
<line x1="39.4" y1="338.92" x2="41.3" y2="338.92" stroke="#111" stroke-width="1.1"/>
<line x1="39.4" y1="334.34" x2="41.3" y2="334.34" stroke="#111" stroke-width="1.1"/>
<line x1="39.4" y1="329.77" x2="41.3" y2="329.77" stroke="#111" stroke-width="1.1"/>
<line x1="39.4" y1="325.19" x2="41.3" y2="325.19" stroke="#111" stroke-width="1.1"/>
<line x1="39.4" y1="320.61" x2="41.3" y2="320.61" stroke="#111" stroke-width="1.1"/>
<line x1="39.4" y1="316.03" x2="41.3" y2="316.03" stroke="#111" stroke-width="1.1"/>
<line x1="39.4" y1="311.46" x2="41.3" y2="311.46" stroke="#111" stroke-width="1.1"/>
<line x1="39.4" y1="306.88" x2="41.3" y2="306.88" stroke="#111" stroke-width="1.1"/>
<line x1="38.1" y1="302.3" x2="41.3" y2="302.3" stroke="#111" stroke-width="1.2"/>
<line x1="39.4" y1="297.72" x2="41.3" y2="297.72" stroke="#111" stroke-width="1.1"/>
<line x1="39.4" y1="293.14" x2="41.3" y2="293.14" stroke="#111" stroke-width="1.1"/>
<line x1="39.4" y1="288.57" x2="41.3" y2="288.57" stroke="#111" stroke-width="1.1"/>
<line x1="39.4" y1="283.99" x2="41.3" y2="283.99" stroke="#111" stroke-width="1.1"/>
<line x1="39.4" y1="279.41" x2="41.3" y2="279.41" stroke="#111" stroke-width="1.1"/>
<line x1="39.4" y1="274.83" x2="41.3" y2="274.83" stroke="#111" stroke-width="1.1"/>
<line x1="39.4" y1="270.26" x2="41.3" y2="270.26" stroke="#111" stroke-width="1.1"/>
<line x1="39.4" y1="265.68" x2="41.3" y2="265.68" stroke="#111" stroke-width="1.1"/>
<line x1="38.1" y1="261.1" x2="41.3" y2="261.1" stroke="#111" stroke-width="1.2"/>
<text x="34.9" y="387.3" font-size="7.6" text-anchor="end" fill="#3c3c3c" stroke="#3c3c3c" stroke-width="0.2">0</text>
<text x="34.9" y="346.1" font-size="7.6" text-anchor="end" fill="#3c3c3c" stroke="#3c3c3c" stroke-width="0.2" textLength="14.6" lengthAdjust="spacingAndGlyphs">200</text>
<text x="34.9" y="304.9" font-size="7.6" text-anchor="end" fill="#3c3c3c" stroke="#3c3c3c" stroke-width="0.2" textLength="14.6" lengthAdjust="spacingAndGlyphs">400</text>
<text x="34.9" y="263.7" font-size="7.6" text-anchor="end" fill="#3c3c3c" stroke="#3c3c3c" stroke-width="0.2" textLength="14.6" lengthAdjust="spacingAndGlyphs">600</text>
<text x="67.6" y="241.5" font-size="7.2" fill="#3c3c3c" stroke="#3c3c3c" stroke-width="0.08" textLength="40.3" lengthAdjust="spacingAndGlyphs">End of Bolus</text>
<line x1="87.8" y1="245.4" x2="87.8" y2="255.8" stroke="#111" stroke-width="1.1"/>
<path d="M85.5,254.2 L90.1,254.2 L87.8,258.8 Z" fill="#111"/>
<line x1="121.3" y1="277.1" x2="129.8" y2="277.1" stroke="#4e5661" stroke-width="1.3"/>
<circle cx="125.55" cy="277.1" r="1.71" fill="#4e5661"/>
<text x="132.9" y="279.5" font-size="7.2" fill="#3c3c3c" stroke="#3c3c3c" stroke-width="0.08" textLength="93.9" lengthAdjust="spacingAndGlyphs">Placebo [Cohorts 1-3] (N=9)</text>
<line x1="121.3" y1="286.2" x2="129.8" y2="286.2" stroke="#a8102e" stroke-width="1.3"/>
<rect x="123.93" y="284.58" width="3.24" height="3.24" fill="#a8102e"/>
<text x="132.9" y="288.6" font-size="7.2" fill="#3c3c3c" stroke="#3c3c3c" stroke-width="0.08" textLength="76.5" lengthAdjust="spacingAndGlyphs">90 mg [Cohort 1] (N=6)</text>
<line x1="121.3" y1="295.2" x2="129.8" y2="295.2" stroke="#2a4272" stroke-width="1.3"/>
<path d="M125.55,293.13 L127.62,295.2 L125.55,297.27 L123.48,295.2 Z" fill="#2a4272"/>
<text x="132.9" y="297.6" font-size="7.2" fill="#3c3c3c" stroke="#3c3c3c" stroke-width="0.08" textLength="80.5" lengthAdjust="spacingAndGlyphs">210 mg [Cohort 2] (N=6)</text>
<line x1="121.3" y1="304.2" x2="129.8" y2="304.2" stroke="#8db563" stroke-width="1.3"/>
<path d="M125.55,302.13 L127.62,305.86 L123.48,305.86 Z" fill="#8db563"/>
<text x="132.9" y="306.6" font-size="7.2" fill="#3c3c3c" stroke="#3c3c3c" stroke-width="0.08" textLength="80.5" lengthAdjust="spacingAndGlyphs">420 mg [Cohort 3] (N=6)</text>
<text transform="translate(15.3,321.4) rotate(-90)" x="-34.25" y="0" font-size="8.6" fill="#222" textLength="68.5" lengthAdjust="spacingAndGlyphs" stroke="#222" stroke-width="0.22">Total apixaban (ng/mL)</text>
<text x="93.7" y="411.3" font-size="9" fill="#222" textLength="85.3" lengthAdjust="spacingAndGlyphs" stroke="#222" stroke-width="0.35">Time after apixaban dose (h)</text>
<line x1="327.5" y1="259.8" x2="327.5" y2="384.7" stroke="#4a4a4a" stroke-width="1.2"/>
<line x1="339.0" y1="259.8" x2="339.0" y2="384.7" stroke="#4a4a4a" stroke-width="1.2"/>
<line x1="358.4" y1="259.8" x2="358.4" y2="384.7" stroke="#4a4a4a" stroke-width="1.2"/>
<path d="M280.8,371.72V375.02M279,371.72H282.6M279,375.02H282.6" stroke="#2a2a2a" stroke-width="1" fill="none"/>
<path d="M296.3,353.39V358.33M294.5,353.39H298.1M294.5,358.33H298.1" stroke="#2a2a2a" stroke-width="1" fill="none"/>
<path d="M311.8,350.92V356.68M310,350.92H313.6M310,356.68H313.6" stroke="#2a2a2a" stroke-width="1" fill="none"/>
<path d="M321.1,350.3V356.07M319.3,350.3H322.9M319.3,356.07H322.9" stroke="#2a2a2a" stroke-width="1" fill="none"/>
<path d="M327.3,354.42V359.36M325.5,354.42H329.1M325.5,359.36H329.1" stroke="#2a2a2a" stroke-width="1" fill="none"/>
<path d="M331.95,354.83V359.77M330.15,354.83H333.75M330.15,359.77H333.75" stroke="#2a2a2a" stroke-width="1" fill="none"/>
<path d="M340.32,353.59V358.54M338.52,353.59H342.12M338.52,358.54H342.12" stroke="#2a2a2a" stroke-width="1" fill="none"/>
<path d="M344.35,357.1V362.86M342.55,357.1H346.15M342.55,362.86H346.15" stroke="#2a2a2a" stroke-width="1" fill="none"/>
<path d="M349,355.86V361.63M347.2,355.86H350.8M347.2,361.63H350.8" stroke="#2a2a2a" stroke-width="1" fill="none"/>
<path d="M355.05,355.45V361.22M353.25,355.45H356.85M353.25,361.22H356.85" stroke="#2a2a2a" stroke-width="1" fill="none"/>
<path d="M358.46,363.28V369.04M356.66,363.28H360.26M356.66,369.04H360.26" stroke="#2a2a2a" stroke-width="1" fill="none"/>
<path d="M363.11,356.68V362.45M361.31,356.68H364.91M361.31,362.45H364.91" stroke="#2a2a2a" stroke-width="1" fill="none"/>
<path d="M366.51,363.28V369.04M364.71,363.28H368.31M364.71,369.04H368.31" stroke="#2a2a2a" stroke-width="1" fill="none"/>
<path d="M371.17,359.77V365.54M369.37,359.77H372.97M369.37,365.54H372.97" stroke="#2a2a2a" stroke-width="1" fill="none"/>
<path d="M374.57,364.92V369.87M372.77,364.92H376.38M372.77,369.87H376.38" stroke="#2a2a2a" stroke-width="1" fill="none"/>
<path d="M378.14,362.45V367.4M376.34,362.45H379.94M376.34,367.4H379.94" stroke="#2a2a2a" stroke-width="1" fill="none"/>
<path d="M381.55,367.19V372.13M379.75,367.19H383.35M379.75,372.13H383.35" stroke="#2a2a2a" stroke-width="1" fill="none"/>
<path d="M384.96,362.86V367.81M383.16,362.86H386.76M383.16,367.81H386.76" stroke="#2a2a2a" stroke-width="1" fill="none"/>
<path d="M389.61,368.43V373.37M387.81,368.43H391.41M387.81,373.37H391.41" stroke="#2a2a2a" stroke-width="1" fill="none"/>
<path d="M393.18,365.95V370.9M391.38,365.95H394.98M391.38,370.9H394.98" stroke="#2a2a2a" stroke-width="1" fill="none"/>
<path d="M396.43,369.46V374.4M394.63,369.46H398.23M394.63,374.4H398.23" stroke="#2a2a2a" stroke-width="1" fill="none"/>
<path d="M401.08,368.63V372.75M399.28,368.63H402.88M399.28,372.75H402.88" stroke="#2a2a2a" stroke-width="1" fill="none"/>
<path d="M404.64,370.28V374.4M402.84,370.28H406.44M402.84,374.4H406.44" stroke="#2a2a2a" stroke-width="1" fill="none"/>
<path d="M410.38,368.84V372.96M408.58,368.84H412.18M408.58,372.96H412.18" stroke="#2a2a2a" stroke-width="1" fill="none"/>
<path d="M424.18,370.28V374.4M422.38,370.28H425.98M422.38,374.4H425.98" stroke="#2a2a2a" stroke-width="1" fill="none"/>
<path d="M440.45,373.78V377.08M438.65,373.78H442.25M438.65,377.08H442.25" stroke="#2a2a2a" stroke-width="1" fill="none"/>
<path d="M456.57,373.78V377.08M454.77,373.78H458.37M454.77,377.08H458.37" stroke="#2a2a2a" stroke-width="1" fill="none"/>
<path d="M465.25,372.75V376.05M463.45,372.75H467.05M463.45,376.05H467.05" stroke="#2a2a2a" stroke-width="1" fill="none"/>
<path d="M280.8,373.37 L296.3,355.86 L311.8,353.8 L321.1,353.18 L327.3,356.89 L331.95,357.3 L340.32,356.07 L344.35,359.98 L349,358.74 L355.05,358.33 L358.46,366.16 L363.11,359.57 L366.51,366.16 L371.17,362.66 L374.57,367.4 L378.14,364.92 L381.55,369.66 L384.96,365.34 L389.61,370.9 L393.18,368.43 L396.43,371.93 L401.08,370.69 L404.64,372.34 L410.38,370.9 L424.18,372.34 L440.45,375.43 L456.57,375.43 L465.25,374.4 L466.8,375.22" stroke="#565d6c" stroke-width="1.6" fill="none" stroke-linejoin="round"/>
<circle cx="280.8" cy="373.37" r="1.9" fill="#565d6c"/>
<circle cx="296.3" cy="355.86" r="1.9" fill="#565d6c"/>
<circle cx="311.8" cy="353.8" r="1.9" fill="#565d6c"/>
<circle cx="321.1" cy="353.18" r="1.9" fill="#565d6c"/>
<circle cx="327.3" cy="356.89" r="1.9" fill="#565d6c"/>
<circle cx="331.95" cy="357.3" r="1.9" fill="#565d6c"/>
<circle cx="340.32" cy="356.07" r="1.9" fill="#565d6c"/>
<circle cx="344.35" cy="359.98" r="1.9" fill="#565d6c"/>
<circle cx="349" cy="358.74" r="1.9" fill="#565d6c"/>
<circle cx="355.05" cy="358.33" r="1.9" fill="#565d6c"/>
<circle cx="358.46" cy="366.16" r="1.9" fill="#565d6c"/>
<circle cx="363.11" cy="359.57" r="1.9" fill="#565d6c"/>
<circle cx="366.51" cy="366.16" r="1.9" fill="#565d6c"/>
<circle cx="371.17" cy="362.66" r="1.9" fill="#565d6c"/>
<circle cx="374.57" cy="367.4" r="1.9" fill="#565d6c"/>
<circle cx="378.14" cy="364.92" r="1.9" fill="#565d6c"/>
<circle cx="381.55" cy="369.66" r="1.9" fill="#565d6c"/>
<circle cx="384.96" cy="365.34" r="1.9" fill="#565d6c"/>
<circle cx="389.61" cy="370.9" r="1.9" fill="#565d6c"/>
<circle cx="393.18" cy="368.43" r="1.9" fill="#565d6c"/>
<circle cx="396.43" cy="371.93" r="1.9" fill="#565d6c"/>
<circle cx="401.08" cy="370.69" r="1.9" fill="#565d6c"/>
<circle cx="404.64" cy="372.34" r="1.9" fill="#565d6c"/>
<circle cx="410.38" cy="370.9" r="1.9" fill="#565d6c"/>
<circle cx="424.18" cy="372.34" r="1.9" fill="#565d6c"/>
<circle cx="440.45" cy="375.43" r="1.9" fill="#565d6c"/>
<circle cx="456.57" cy="375.43" r="1.9" fill="#565d6c"/>
<circle cx="465.25" cy="374.4" r="1.9" fill="#565d6c"/>
<circle cx="466.8" cy="375.22" r="1.9" fill="#565d6c"/>
<path d="M280.8,371.72V375.02M279,371.72H282.6M279,375.02H282.6" stroke="#2a2a2a" stroke-width="1" fill="none"/>
<path d="M296.3,350.71V356.89M294.5,350.71H298.1M294.5,356.89H298.1" stroke="#2a2a2a" stroke-width="1" fill="none"/>
<path d="M311.8,346.59V352.77M310,346.59H313.6M310,352.77H313.6" stroke="#2a2a2a" stroke-width="1" fill="none"/>
<path d="M321.1,346.59V352.77M319.3,346.59H322.9M319.3,352.77H322.9" stroke="#2a2a2a" stroke-width="1" fill="none"/>
<path d="M327.3,297.15V309.51M325.5,297.15H329.1M325.5,309.51H329.1" stroke="#2a2a2a" stroke-width="1" fill="none"/>
<path d="M331.95,292V302.3M330.15,292H333.75M330.15,302.3H333.75" stroke="#2a2a2a" stroke-width="1" fill="none"/>
<path d="M339.7,297.97V306.21M337.9,297.97H341.5M337.9,306.21H341.5" stroke="#2a2a2a" stroke-width="1" fill="none"/>
<path d="M347.45,306.01V313.42M345.65,306.01H349.25M345.65,313.42H349.25" stroke="#2a2a2a" stroke-width="1" fill="none"/>
<path d="M354.58,314.25V321.66M352.78,314.25H356.38M352.78,321.66H356.38" stroke="#2a2a2a" stroke-width="1" fill="none"/>
<path d="M362.95,324.96V331.14M361.15,324.96H364.75M361.15,331.14H364.75" stroke="#2a2a2a" stroke-width="1" fill="none"/>
<path d="M370.24,333.2V339.38M368.44,333.2H372.04M368.44,339.38H372.04" stroke="#2a2a2a" stroke-width="1" fill="none"/>
<path d="M378.3,342.47V348.24M376.5,342.47H380.1M376.5,348.24H380.1" stroke="#2a2a2a" stroke-width="1" fill="none"/>
<path d="M386.2,347.62V352.56M384.4,347.62H388M384.4,352.56H388" stroke="#2a2a2a" stroke-width="1" fill="none"/>
<path d="M395.5,350.92V355.86M393.7,350.92H397.3M393.7,355.86H397.3" stroke="#2a2a2a" stroke-width="1" fill="none"/>
<path d="M411.77,357.1V361.22M409.97,357.1H413.57M409.97,361.22H413.57" stroke="#2a2a2a" stroke-width="1" fill="none"/>
<path d="M426.5,361.83V365.95M424.7,361.83H428.3M424.7,365.95H428.3" stroke="#2a2a2a" stroke-width="1" fill="none"/>
<path d="M440.45,366.57V369.87M438.65,366.57H442.25M438.65,369.87H442.25" stroke="#2a2a2a" stroke-width="1" fill="none"/>
<path d="M456.88,370.69V373.16M455.08,370.69H458.68M455.08,373.16H458.68" stroke="#2a2a2a" stroke-width="1" fill="none"/>
<path d="M280.8,373.37 L296.3,353.8 L311.8,349.68 L321.1,349.68 L327.3,303.33 L331.95,297.15 L339.7,302.09 L347.45,309.72 L354.58,317.96 L362.95,328.05 L370.24,336.29 L378.3,345.35 L386.2,350.09 L395.5,353.39 L411.77,359.16 L426.5,363.89 L440.45,368.22 L456.88,371.93 L466.8,372.96" stroke="#3c2468" stroke-width="1.6" fill="none" stroke-linejoin="round"/>
<circle cx="280.8" cy="373.37" r="1.33" fill="#3c2468"/>
<circle cx="296.3" cy="353.8" r="1.33" fill="#3c2468"/>
<circle cx="311.8" cy="349.68" r="1.33" fill="#3c2468"/>
<circle cx="321.1" cy="349.68" r="1.33" fill="#3c2468"/>
<circle cx="327.3" cy="303.33" r="1.33" fill="#3c2468"/>
<circle cx="331.95" cy="297.15" r="1.33" fill="#3c2468"/>
<circle cx="339.7" cy="302.09" r="1.33" fill="#3c2468"/>
<circle cx="347.45" cy="309.72" r="1.33" fill="#3c2468"/>
<circle cx="354.58" cy="317.96" r="1.33" fill="#3c2468"/>
<circle cx="362.95" cy="328.05" r="1.33" fill="#3c2468"/>
<circle cx="370.24" cy="336.29" r="1.33" fill="#3c2468"/>
<circle cx="378.3" cy="345.35" r="1.33" fill="#3c2468"/>
<circle cx="386.2" cy="350.09" r="1.33" fill="#3c2468"/>
<circle cx="395.5" cy="353.39" r="1.33" fill="#3c2468"/>
<circle cx="411.77" cy="359.16" r="1.33" fill="#3c2468"/>
<circle cx="426.5" cy="363.89" r="1.33" fill="#3c2468"/>
<circle cx="440.45" cy="368.22" r="1.33" fill="#3c2468"/>
<circle cx="456.88" cy="371.93" r="1.33" fill="#3c2468"/>
<circle cx="466.8" cy="372.96" r="1.33" fill="#3c2468"/>
<path d="M280.8,369.87V373.16M279,369.87H282.6M279,373.16H282.6" stroke="#2a2a2a" stroke-width="1" fill="none"/>
<path d="M296.3,348.86V355.04M294.5,348.86H298.1M294.5,355.04H298.1" stroke="#2a2a2a" stroke-width="1" fill="none"/>
<path d="M311.8,342.26V348.44M310,342.26H313.6M310,348.44H313.6" stroke="#2a2a2a" stroke-width="1" fill="none"/>
<path d="M321.1,338.97V346.38M319.3,338.97H322.9M319.3,346.38H322.9" stroke="#2a2a2a" stroke-width="1" fill="none"/>
<path d="M327.3,288.7V299M325.5,288.7H329.1M325.5,299H329.1" stroke="#2a2a2a" stroke-width="1" fill="none"/>
<path d="M331.95,288.91V299.21M330.15,288.91H333.75M330.15,299.21H333.75" stroke="#2a2a2a" stroke-width="1" fill="none"/>
<path d="M339.08,294.06V302.3M337.28,294.06H340.88M337.28,302.3H340.88" stroke="#2a2a2a" stroke-width="1" fill="none"/>
<path d="M343.26,288.29V296.53M341.46,288.29H345.06M341.46,296.53H345.06" stroke="#2a2a2a" stroke-width="1" fill="none"/>
<path d="M349,291.59V299.83M347.2,291.59H350.8M347.2,299.83H350.8" stroke="#2a2a2a" stroke-width="1" fill="none"/>
<path d="M356.75,304.15V311.57M354.95,304.15H358.55M354.95,311.57H358.55" stroke="#2a2a2a" stroke-width="1" fill="none"/>
<path d="M365.28,319.6V326.2M363.48,319.6H367.08M363.48,326.2H367.08" stroke="#2a2a2a" stroke-width="1" fill="none"/>
<path d="M373.8,329.7V335.88M372,329.7H375.6M372,335.88H375.6" stroke="#2a2a2a" stroke-width="1" fill="none"/>
<path d="M380.62,337.94V343.71M378.82,337.94H382.42M378.82,343.71H382.42" stroke="#2a2a2a" stroke-width="1" fill="none"/>
<path d="M388.68,343.91V349.27M386.88,343.91H390.48M386.88,349.27H390.48" stroke="#2a2a2a" stroke-width="1" fill="none"/>
<path d="M397.05,347.62V352.56M395.25,347.62H398.85M395.25,352.56H398.85" stroke="#2a2a2a" stroke-width="1" fill="none"/>
<path d="M411.77,353.8V357.92M409.97,353.8H413.57M409.97,357.92H413.57" stroke="#2a2a2a" stroke-width="1" fill="none"/>
<path d="M426.5,361.83V365.95M424.7,361.83H428.3M424.7,365.95H428.3" stroke="#2a2a2a" stroke-width="1" fill="none"/>
<path d="M440.45,365.54V368.84M438.65,365.54H442.25M438.65,368.84H442.25" stroke="#2a2a2a" stroke-width="1" fill="none"/>
<path d="M456.88,368.84V371.72M455.08,368.84H458.68M455.08,371.72H458.68" stroke="#2a2a2a" stroke-width="1" fill="none"/>
<path d="M280.8,371.52 L296.3,351.95 L311.8,345.35 L321.1,342.68 L327.3,293.85 L331.95,294.06 L339.08,298.18 L343.26,292.41 L349,295.71 L356.75,307.86 L365.28,322.9 L373.8,332.79 L380.62,340.82 L388.68,346.59 L397.05,350.09 L411.77,355.86 L426.5,363.89 L440.45,367.19 L456.88,370.28 L466.8,371.52" stroke="#eba630" stroke-width="1.6" fill="none" stroke-linejoin="round"/>
<path d="M280.8,373.82 L283.1,369.68 L278.5,369.68 Z" fill="#eba630"/>
<path d="M296.3,354.25 L298.6,350.11 L294,350.11 Z" fill="#eba630"/>
<path d="M311.8,347.65 L314.1,343.51 L309.5,343.51 Z" fill="#eba630"/>
<path d="M321.1,344.98 L323.4,340.84 L318.8,340.84 Z" fill="#eba630"/>
<path d="M327.3,296.15 L329.6,292.01 L325,292.01 Z" fill="#eba630"/>
<path d="M331.95,296.36 L334.25,292.22 L329.65,292.22 Z" fill="#eba630"/>
<path d="M339.08,300.48 L341.38,296.34 L336.78,296.34 Z" fill="#eba630"/>
<path d="M343.26,294.71 L345.56,290.57 L340.96,290.57 Z" fill="#eba630"/>
<path d="M349,298.01 L351.3,293.87 L346.7,293.87 Z" fill="#eba630"/>
<path d="M356.75,310.16 L359.05,306.02 L354.45,306.02 Z" fill="#eba630"/>
<path d="M365.28,325.2 L367.58,321.06 L362.98,321.06 Z" fill="#eba630"/>
<path d="M373.8,335.09 L376.1,330.95 L371.5,330.95 Z" fill="#eba630"/>
<path d="M380.62,343.12 L382.92,338.98 L378.32,338.98 Z" fill="#eba630"/>
<path d="M388.68,348.89 L390.98,344.75 L386.38,344.75 Z" fill="#eba630"/>
<path d="M397.05,352.39 L399.35,348.25 L394.75,348.25 Z" fill="#eba630"/>
<path d="M411.77,358.16 L414.07,354.02 L409.47,354.02 Z" fill="#eba630"/>
<path d="M426.5,366.19 L428.8,362.05 L424.2,362.05 Z" fill="#eba630"/>
<path d="M440.45,369.49 L442.75,365.35 L438.15,365.35 Z" fill="#eba630"/>
<path d="M456.88,372.58 L459.18,368.44 L454.58,368.44 Z" fill="#eba630"/>
<path d="M466.8,373.82 L469.1,369.68 L464.5,369.68 Z" fill="#eba630"/>
<path d="M280.8,371.72V375.02M279,371.72H282.6M279,375.02H282.6" stroke="#2a2a2a" stroke-width="1" fill="none"/>
<path d="M296.3,352.77V358.95M294.5,352.77H298.1M294.5,358.95H298.1" stroke="#2a2a2a" stroke-width="1" fill="none"/>
<path d="M311.8,348.65V354.83M310,348.65H313.6M310,354.83H313.6" stroke="#2a2a2a" stroke-width="1" fill="none"/>
<path d="M321.1,348.65V354.83M319.3,348.65H322.9M319.3,354.83H322.9" stroke="#2a2a2a" stroke-width="1" fill="none"/>
<path d="M327.3,305.8V318.16M325.5,305.8H329.1M325.5,318.16H329.1" stroke="#2a2a2a" stroke-width="1" fill="none"/>
<path d="M331.95,296.33V306.63M330.15,296.33H333.75M330.15,306.63H333.75" stroke="#2a2a2a" stroke-width="1" fill="none"/>
<path d="M339.7,303.12V311.36M337.9,303.12H341.5M337.9,311.36H341.5" stroke="#2a2a2a" stroke-width="1" fill="none"/>
<path d="M348.07,312.6V320.84M346.27,312.6H349.87M346.27,320.84H349.87" stroke="#2a2a2a" stroke-width="1" fill="none"/>
<path d="M356.75,315.48V322.9M354.95,315.48H358.55M354.95,322.9H358.55" stroke="#2a2a2a" stroke-width="1" fill="none"/>
<path d="M362.33,314.25V321.66M360.53,314.25H364.13M360.53,321.66H364.13" stroke="#2a2a2a" stroke-width="1" fill="none"/>
<path d="M366.51,308.48V320.84M364.71,308.48H368.31M364.71,320.84H368.31" stroke="#2a2a2a" stroke-width="1" fill="none"/>
<path d="M372.25,329.49V336.08M370.45,329.49H374.05M370.45,336.08H374.05" stroke="#2a2a2a" stroke-width="1" fill="none"/>
<path d="M381.55,330.93V336.7M379.75,330.93H383.35M379.75,336.7H383.35" stroke="#2a2a2a" stroke-width="1" fill="none"/>
<path d="M388.68,343.91V349.27M386.88,343.91H390.48M386.88,349.27H390.48" stroke="#2a2a2a" stroke-width="1" fill="none"/>
<path d="M397.05,346.38V351.33M395.25,346.38H398.85M395.25,351.33H398.85" stroke="#2a2a2a" stroke-width="1" fill="none"/>
<path d="M404.8,353.8V357.92M403,353.8H406.6M403,357.92H406.6" stroke="#2a2a2a" stroke-width="1" fill="none"/>
<path d="M411.77,354.83V358.95M409.97,354.83H413.57M409.97,358.95H413.57" stroke="#2a2a2a" stroke-width="1" fill="none"/>
<path d="M426.5,361.83V365.95M424.7,361.83H428.3M424.7,365.95H428.3" stroke="#2a2a2a" stroke-width="1" fill="none"/>
<path d="M440.45,365.54V368.84M438.65,365.54H442.25M438.65,368.84H442.25" stroke="#2a2a2a" stroke-width="1" fill="none"/>
<path d="M456.88,368.22V371.1M455.08,368.22H458.68M455.08,371.1H458.68" stroke="#2a2a2a" stroke-width="1" fill="none"/>
<path d="M280.8,373.37 L296.3,355.86 L311.8,351.74 L321.1,351.74 L327.3,311.98 L331.95,301.48 L339.7,307.24 L348.07,316.72 L356.75,319.19 L362.33,317.96 L366.51,314.66 L372.25,332.79 L381.55,333.82 L388.68,346.59 L397.05,348.86 L404.8,355.86 L411.77,356.89 L426.5,363.89 L440.45,367.19 L456.88,369.66 L466.8,370.69" stroke="#33604f" stroke-width="1.6" fill="none" stroke-linejoin="round"/>
<path d="M280.8,371.53 L282.64,373.37 L280.8,375.21 L278.96,373.37 Z" fill="#33604f"/>
<path d="M296.3,354.02 L298.14,355.86 L296.3,357.7 L294.46,355.86 Z" fill="#33604f"/>
<path d="M311.8,349.9 L313.64,351.74 L311.8,353.58 L309.96,351.74 Z" fill="#33604f"/>
<path d="M321.1,349.9 L322.94,351.74 L321.1,353.58 L319.26,351.74 Z" fill="#33604f"/>
<path d="M327.3,310.14 L329.14,311.98 L327.3,313.82 L325.46,311.98 Z" fill="#33604f"/>
<path d="M331.95,299.64 L333.79,301.48 L331.95,303.32 L330.11,301.48 Z" fill="#33604f"/>
<path d="M339.7,305.4 L341.54,307.24 L339.7,309.08 L337.86,307.24 Z" fill="#33604f"/>
<path d="M348.07,314.88 L349.91,316.72 L348.07,318.56 L346.23,316.72 Z" fill="#33604f"/>
<path d="M356.75,317.35 L358.59,319.19 L356.75,321.03 L354.91,319.19 Z" fill="#33604f"/>
<path d="M362.33,316.12 L364.17,317.96 L362.33,319.8 L360.49,317.96 Z" fill="#33604f"/>
<path d="M366.51,312.82 L368.35,314.66 L366.51,316.5 L364.68,314.66 Z" fill="#33604f"/>
<path d="M372.25,330.95 L374.09,332.79 L372.25,334.63 L370.41,332.79 Z" fill="#33604f"/>
<path d="M381.55,331.98 L383.39,333.82 L381.55,335.66 L379.71,333.82 Z" fill="#33604f"/>
<path d="M388.68,344.75 L390.52,346.59 L388.68,348.43 L386.84,346.59 Z" fill="#33604f"/>
<path d="M397.05,347.02 L398.89,348.86 L397.05,350.7 L395.21,348.86 Z" fill="#33604f"/>
<path d="M404.8,354.02 L406.64,355.86 L404.8,357.7 L402.96,355.86 Z" fill="#33604f"/>
<path d="M411.77,355.05 L413.61,356.89 L411.77,358.73 L409.94,356.89 Z" fill="#33604f"/>
<path d="M426.5,362.05 L428.34,363.89 L426.5,365.73 L424.66,363.89 Z" fill="#33604f"/>
<path d="M440.45,365.35 L442.29,367.19 L440.45,369.03 L438.61,367.19 Z" fill="#33604f"/>
<path d="M456.88,367.82 L458.72,369.66 L456.88,371.5 L455.04,369.66 Z" fill="#33604f"/>
<path d="M466.8,368.85 L468.64,370.69 L466.8,372.53 L464.96,370.69 Z" fill="#33604f"/>
<line x1="280.8" y1="258" x2="280.8" y2="385.5" stroke="#111" stroke-width="1.5"/>
<line x1="280.05" y1="384.7" x2="470.3" y2="384.7" stroke="#111" stroke-width="1.5"/>
<line x1="280.8" y1="384.7" x2="280.8" y2="388.2" stroke="#111" stroke-width="1.2"/>
<text x="281.1" y="398.2" font-size="7.6" text-anchor="middle" fill="#3c3c3c" stroke="#3c3c3c" stroke-width="0.2">0</text>
<line x1="296.3" y1="384.7" x2="296.3" y2="388.2" stroke="#111" stroke-width="1.2"/>
<text x="296.6" y="398.2" font-size="7.6" text-anchor="middle" fill="#3c3c3c" stroke="#3c3c3c" stroke-width="0.2">1</text>
<line x1="311.8" y1="384.7" x2="311.8" y2="388.2" stroke="#111" stroke-width="1.2"/>
<text x="312.1" y="398.2" font-size="7.6" text-anchor="middle" fill="#3c3c3c" stroke="#3c3c3c" stroke-width="0.2">2</text>
<line x1="327.3" y1="384.7" x2="327.3" y2="388.2" stroke="#111" stroke-width="1.2"/>
<text x="327.6" y="398.2" font-size="7.6" text-anchor="middle" fill="#3c3c3c" stroke="#3c3c3c" stroke-width="0.2">3</text>
<line x1="342.8" y1="384.7" x2="342.8" y2="388.2" stroke="#111" stroke-width="1.2"/>
<text x="343.1" y="398.2" font-size="7.6" text-anchor="middle" fill="#3c3c3c" stroke="#3c3c3c" stroke-width="0.2">4</text>
<line x1="358.3" y1="384.7" x2="358.3" y2="388.2" stroke="#111" stroke-width="1.2"/>
<text x="358.6" y="398.2" font-size="7.6" text-anchor="middle" fill="#3c3c3c" stroke="#3c3c3c" stroke-width="0.2">5</text>
<line x1="373.8" y1="384.7" x2="373.8" y2="388.2" stroke="#111" stroke-width="1.2"/>
<text x="374.1" y="398.2" font-size="7.6" text-anchor="middle" fill="#3c3c3c" stroke="#3c3c3c" stroke-width="0.2">6</text>
<line x1="389.3" y1="384.7" x2="389.3" y2="388.2" stroke="#111" stroke-width="1.2"/>
<text x="389.6" y="398.2" font-size="7.6" text-anchor="middle" fill="#3c3c3c" stroke="#3c3c3c" stroke-width="0.2">7</text>
<line x1="404.8" y1="384.7" x2="404.8" y2="388.2" stroke="#111" stroke-width="1.2"/>
<text x="405.1" y="398.2" font-size="7.6" text-anchor="middle" fill="#3c3c3c" stroke="#3c3c3c" stroke-width="0.2">8</text>
<line x1="420.3" y1="384.7" x2="420.3" y2="388.2" stroke="#111" stroke-width="1.2"/>
<text x="420.6" y="398.2" font-size="7.6" text-anchor="middle" fill="#3c3c3c" stroke="#3c3c3c" stroke-width="0.2">9</text>
<line x1="435.8" y1="384.7" x2="435.8" y2="388.2" stroke="#111" stroke-width="1.2"/>
<text x="436.6" y="398.2" font-size="7.6" text-anchor="middle" fill="#3c3c3c" stroke="#3c3c3c" stroke-width="0.2" textLength="7.4" lengthAdjust="spacingAndGlyphs">10</text>
<line x1="451.3" y1="384.7" x2="451.3" y2="388.2" stroke="#111" stroke-width="1.2"/>
<text x="452.1" y="398.2" font-size="7.6" text-anchor="middle" fill="#3c3c3c" stroke="#3c3c3c" stroke-width="0.2" textLength="7.4" lengthAdjust="spacingAndGlyphs">11</text>
<line x1="466.8" y1="384.7" x2="466.8" y2="388.2" stroke="#111" stroke-width="1.2"/>
<text x="467.6" y="398.2" font-size="7.6" text-anchor="middle" fill="#3c3c3c" stroke="#3c3c3c" stroke-width="0.2" textLength="7.4" lengthAdjust="spacingAndGlyphs">12</text>
<line x1="277.6" y1="384.7" x2="280.8" y2="384.7" stroke="#111" stroke-width="1.2"/>
<line x1="278.9" y1="380.12" x2="280.8" y2="380.12" stroke="#111" stroke-width="1.1"/>
<line x1="278.9" y1="375.54" x2="280.8" y2="375.54" stroke="#111" stroke-width="1.1"/>
<line x1="278.9" y1="370.97" x2="280.8" y2="370.97" stroke="#111" stroke-width="1.1"/>
<line x1="278.9" y1="366.39" x2="280.8" y2="366.39" stroke="#111" stroke-width="1.1"/>
<line x1="278.9" y1="361.81" x2="280.8" y2="361.81" stroke="#111" stroke-width="1.1"/>
<line x1="278.9" y1="357.23" x2="280.8" y2="357.23" stroke="#111" stroke-width="1.1"/>
<line x1="278.9" y1="352.66" x2="280.8" y2="352.66" stroke="#111" stroke-width="1.1"/>
<line x1="278.9" y1="348.08" x2="280.8" y2="348.08" stroke="#111" stroke-width="1.1"/>
<line x1="277.6" y1="343.5" x2="280.8" y2="343.5" stroke="#111" stroke-width="1.2"/>
<line x1="278.9" y1="338.92" x2="280.8" y2="338.92" stroke="#111" stroke-width="1.1"/>
<line x1="278.9" y1="334.34" x2="280.8" y2="334.34" stroke="#111" stroke-width="1.1"/>
<line x1="278.9" y1="329.77" x2="280.8" y2="329.77" stroke="#111" stroke-width="1.1"/>
<line x1="278.9" y1="325.19" x2="280.8" y2="325.19" stroke="#111" stroke-width="1.1"/>
<line x1="278.9" y1="320.61" x2="280.8" y2="320.61" stroke="#111" stroke-width="1.1"/>
<line x1="278.9" y1="316.03" x2="280.8" y2="316.03" stroke="#111" stroke-width="1.1"/>
<line x1="278.9" y1="311.46" x2="280.8" y2="311.46" stroke="#111" stroke-width="1.1"/>
<line x1="278.9" y1="306.88" x2="280.8" y2="306.88" stroke="#111" stroke-width="1.1"/>
<line x1="277.6" y1="302.3" x2="280.8" y2="302.3" stroke="#111" stroke-width="1.2"/>
<line x1="278.9" y1="297.72" x2="280.8" y2="297.72" stroke="#111" stroke-width="1.1"/>
<line x1="278.9" y1="293.14" x2="280.8" y2="293.14" stroke="#111" stroke-width="1.1"/>
<line x1="278.9" y1="288.57" x2="280.8" y2="288.57" stroke="#111" stroke-width="1.1"/>
<line x1="278.9" y1="283.99" x2="280.8" y2="283.99" stroke="#111" stroke-width="1.1"/>
<line x1="278.9" y1="279.41" x2="280.8" y2="279.41" stroke="#111" stroke-width="1.1"/>
<line x1="278.9" y1="274.83" x2="280.8" y2="274.83" stroke="#111" stroke-width="1.1"/>
<line x1="278.9" y1="270.26" x2="280.8" y2="270.26" stroke="#111" stroke-width="1.1"/>
<line x1="278.9" y1="265.68" x2="280.8" y2="265.68" stroke="#111" stroke-width="1.1"/>
<line x1="277.6" y1="261.1" x2="280.8" y2="261.1" stroke="#111" stroke-width="1.2"/>
<text x="274.4" y="387.3" font-size="7.6" text-anchor="end" fill="#3c3c3c" stroke="#3c3c3c" stroke-width="0.2">0</text>
<text x="274.4" y="346.1" font-size="7.6" text-anchor="end" fill="#3c3c3c" stroke="#3c3c3c" stroke-width="0.2" textLength="14.6" lengthAdjust="spacingAndGlyphs">200</text>
<text x="274.4" y="304.9" font-size="7.6" text-anchor="end" fill="#3c3c3c" stroke="#3c3c3c" stroke-width="0.2" textLength="14.6" lengthAdjust="spacingAndGlyphs">400</text>
<text x="274.4" y="263.7" font-size="7.6" text-anchor="end" fill="#3c3c3c" stroke="#3c3c3c" stroke-width="0.2" textLength="14.6" lengthAdjust="spacingAndGlyphs">600</text>
<text x="288.8" y="242.6" font-size="7.2" fill="#3c3c3c" stroke="#3c3c3c" stroke-width="0.08" textLength="41.7" lengthAdjust="spacingAndGlyphs">End of Bolus</text>
<text x="336.2" y="231.4" font-size="7.2" fill="#3c3c3c" stroke="#3c3c3c" stroke-width="0.08" textLength="154.2" lengthAdjust="spacingAndGlyphs">End of Infusion (Cohort 4)/2nd Bolus (Cohort 5)</text>
<text x="353.8" y="242.8" font-size="7.2" fill="#3c3c3c" stroke="#3c3c3c" stroke-width="0.08" textLength="82.4" lengthAdjust="spacingAndGlyphs">End of Infusion (Cohort 6)</text>
<line x1="327.4" y1="245.4" x2="327.4" y2="255.8" stroke="#111" stroke-width="1.1"/>
<path d="M325.1,254.2 L329.7,254.2 L327.4,258.8 Z" fill="#111"/>
<line x1="339" y1="236.6" x2="339" y2="255.8" stroke="#111" stroke-width="1.1"/>
<path d="M336.7,254.2 L341.3,254.2 L339,258.8 Z" fill="#111"/>
<line x1="358.5" y1="245.4" x2="358.5" y2="255.8" stroke="#111" stroke-width="1.1"/>
<path d="M356.2,254.2 L360.8,254.2 L358.5,258.8 Z" fill="#111"/>
<line x1="369" y1="276.6" x2="378.8" y2="276.6" stroke="#565d6c" stroke-width="1.3"/>
<circle cx="373.9" cy="276.6" r="1.71" fill="#565d6c"/>
<text x="382.1" y="279" font-size="7.2" fill="#3c3c3c" stroke="#3c3c3c" stroke-width="0.08" textLength="93" lengthAdjust="spacingAndGlyphs">Placebo [Cohorts 4-6] (N=9)</text>
<line x1="369" y1="285.8" x2="378.8" y2="285.8" stroke="#3c2468" stroke-width="1.3"/>
<circle cx="373.9" cy="285.8" r="1.71" fill="#3c2468"/>
<text x="382.1" y="288.2" font-size="7.2" fill="#3c3c3c" stroke="#3c3c3c" stroke-width="0.08" textLength="130.2" lengthAdjust="spacingAndGlyphs">420 mg/4 mg x 45 min [Cohort 4] (N=6)</text>
<line x1="369" y1="294.5" x2="378.8" y2="294.5" stroke="#eba630" stroke-width="1.3"/>
<path d="M373.9,296.57 L375.97,292.84 L371.83,292.84 Z" fill="#eba630"/>
<text x="382.1" y="296.9" font-size="7.2" fill="#3c3c3c" stroke="#3c3c3c" stroke-width="0.08" textLength="129.4" lengthAdjust="spacingAndGlyphs">420 mg/180 mg bolus [Cohort 5] (N=6)</text>
<line x1="369" y1="303.1" x2="378.8" y2="303.1" stroke="#33604f" stroke-width="1.3"/>
<path d="M373.9,301.03 L375.97,303.1 L373.9,305.17 L371.83,303.1 Z" fill="#33604f"/>
<text x="382.1" y="305.5" font-size="7.2" fill="#3c3c3c" stroke="#3c3c3c" stroke-width="0.08" textLength="117.1" lengthAdjust="spacingAndGlyphs">420 mg/4 mg x 2 h [Cohort 6] (N=6)</text>
<text transform="translate(255,325.2) rotate(-90)" x="-38.6" y="0" font-size="8.6" fill="#222" textLength="77.2" lengthAdjust="spacingAndGlyphs" stroke="#222" stroke-width="0.22">Total apixaban (ng/mL)</text>
<text x="333.2" y="411.3" font-size="9" fill="#222" textLength="85.3" lengthAdjust="spacingAndGlyphs" stroke="#222" stroke-width="0.35">Time after apixaban dose (h)</text>
<rect x="0" y="0" width="520" height="421" fill="none" stroke="#000" stroke-width="2.5"/>
</svg></body></html>
